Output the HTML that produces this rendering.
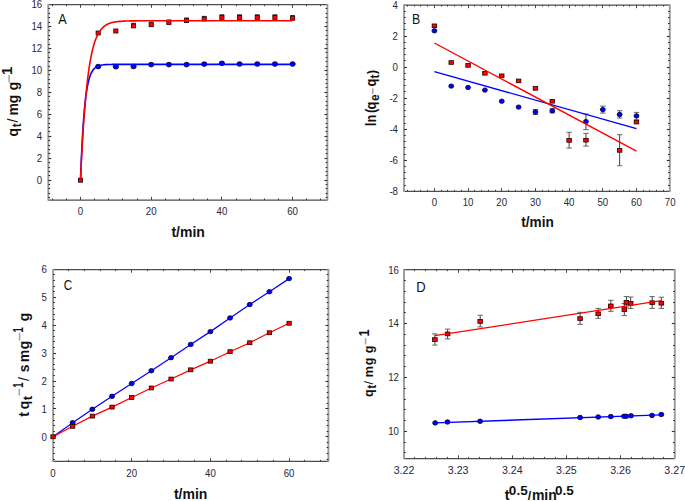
<!DOCTYPE html>
<html><head><meta charset="utf-8"><style>
html,body{margin:0;padding:0;background:#fff;}
body{width:685px;height:501px;overflow:hidden;font-family:"Liberation Sans",sans-serif;}
svg{display:block;}
</style></head><body>
<svg width="685" height="501" viewBox="0 0 685 501" font-family="Liberation Sans, sans-serif">
<line x1="48.30" y1="4.60" x2="327.40" y2="4.60" stroke="#4d4d4d" stroke-width="1.25" />
<line x1="48.30" y1="200.00" x2="327.40" y2="200.00" stroke="#4d4d4d" stroke-width="1.25" />
<line x1="48.30" y1="4.00" x2="48.30" y2="200.60" stroke="#9a9a9a" stroke-width="1.9" />
<line x1="327.40" y1="4.00" x2="327.40" y2="200.60" stroke="#9a9a9a" stroke-width="1.9" />
<line x1="80.50" y1="4.60" x2="80.50" y2="7.80" stroke="#333" stroke-width="0.9" />
<line x1="80.50" y1="200.00" x2="80.50" y2="196.80" stroke="#333" stroke-width="0.9" />
<line x1="151.50" y1="4.60" x2="151.50" y2="7.80" stroke="#333" stroke-width="0.9" />
<line x1="151.50" y1="200.00" x2="151.50" y2="196.80" stroke="#333" stroke-width="0.9" />
<line x1="221.50" y1="4.60" x2="221.50" y2="7.80" stroke="#333" stroke-width="0.9" />
<line x1="221.50" y1="200.00" x2="221.50" y2="196.80" stroke="#333" stroke-width="0.9" />
<line x1="292.50" y1="4.60" x2="292.50" y2="7.80" stroke="#333" stroke-width="0.9" />
<line x1="292.50" y1="200.00" x2="292.50" y2="196.80" stroke="#333" stroke-width="0.9" />
<line x1="52.50" y1="4.60" x2="52.50" y2="6.20" stroke="#333" stroke-width="0.9" />
<line x1="52.50" y1="200.00" x2="52.50" y2="198.40" stroke="#333" stroke-width="0.9" />
<line x1="66.50" y1="4.60" x2="66.50" y2="6.20" stroke="#333" stroke-width="0.9" />
<line x1="66.50" y1="200.00" x2="66.50" y2="198.40" stroke="#333" stroke-width="0.9" />
<line x1="94.50" y1="4.60" x2="94.50" y2="6.20" stroke="#333" stroke-width="0.9" />
<line x1="94.50" y1="200.00" x2="94.50" y2="198.40" stroke="#333" stroke-width="0.9" />
<line x1="108.50" y1="4.60" x2="108.50" y2="6.20" stroke="#333" stroke-width="0.9" />
<line x1="108.50" y1="200.00" x2="108.50" y2="198.40" stroke="#333" stroke-width="0.9" />
<line x1="122.50" y1="4.60" x2="122.50" y2="6.20" stroke="#333" stroke-width="0.9" />
<line x1="122.50" y1="200.00" x2="122.50" y2="198.40" stroke="#333" stroke-width="0.9" />
<line x1="137.50" y1="4.60" x2="137.50" y2="6.20" stroke="#333" stroke-width="0.9" />
<line x1="137.50" y1="200.00" x2="137.50" y2="198.40" stroke="#333" stroke-width="0.9" />
<line x1="165.50" y1="4.60" x2="165.50" y2="6.20" stroke="#333" stroke-width="0.9" />
<line x1="165.50" y1="200.00" x2="165.50" y2="198.40" stroke="#333" stroke-width="0.9" />
<line x1="179.50" y1="4.60" x2="179.50" y2="6.20" stroke="#333" stroke-width="0.9" />
<line x1="179.50" y1="200.00" x2="179.50" y2="198.40" stroke="#333" stroke-width="0.9" />
<line x1="193.50" y1="4.60" x2="193.50" y2="6.20" stroke="#333" stroke-width="0.9" />
<line x1="193.50" y1="200.00" x2="193.50" y2="198.40" stroke="#333" stroke-width="0.9" />
<line x1="207.50" y1="4.60" x2="207.50" y2="6.20" stroke="#333" stroke-width="0.9" />
<line x1="207.50" y1="200.00" x2="207.50" y2="198.40" stroke="#333" stroke-width="0.9" />
<line x1="236.50" y1="4.60" x2="236.50" y2="6.20" stroke="#333" stroke-width="0.9" />
<line x1="236.50" y1="200.00" x2="236.50" y2="198.40" stroke="#333" stroke-width="0.9" />
<line x1="250.50" y1="4.60" x2="250.50" y2="6.20" stroke="#333" stroke-width="0.9" />
<line x1="250.50" y1="200.00" x2="250.50" y2="198.40" stroke="#333" stroke-width="0.9" />
<line x1="264.50" y1="4.60" x2="264.50" y2="6.20" stroke="#333" stroke-width="0.9" />
<line x1="264.50" y1="200.00" x2="264.50" y2="198.40" stroke="#333" stroke-width="0.9" />
<line x1="278.50" y1="4.60" x2="278.50" y2="6.20" stroke="#333" stroke-width="0.9" />
<line x1="278.50" y1="200.00" x2="278.50" y2="198.40" stroke="#333" stroke-width="0.9" />
<line x1="306.50" y1="4.60" x2="306.50" y2="6.20" stroke="#333" stroke-width="0.9" />
<line x1="306.50" y1="200.00" x2="306.50" y2="198.40" stroke="#333" stroke-width="0.9" />
<line x1="320.50" y1="4.60" x2="320.50" y2="6.20" stroke="#333" stroke-width="0.9" />
<line x1="320.50" y1="200.00" x2="320.50" y2="198.40" stroke="#333" stroke-width="0.9" />
<line x1="48.30" y1="180.50" x2="51.30" y2="180.50" stroke="#333" stroke-width="1.1" />
<line x1="327.40" y1="180.50" x2="324.40" y2="180.50" stroke="#333" stroke-width="1.1" />
<line x1="48.30" y1="158.50" x2="51.30" y2="158.50" stroke="#333" stroke-width="1.1" />
<line x1="327.40" y1="158.50" x2="324.40" y2="158.50" stroke="#333" stroke-width="1.1" />
<line x1="48.30" y1="136.50" x2="51.30" y2="136.50" stroke="#333" stroke-width="1.1" />
<line x1="327.40" y1="136.50" x2="324.40" y2="136.50" stroke="#333" stroke-width="1.1" />
<line x1="48.30" y1="114.50" x2="51.30" y2="114.50" stroke="#333" stroke-width="1.1" />
<line x1="327.40" y1="114.50" x2="324.40" y2="114.50" stroke="#333" stroke-width="1.1" />
<line x1="48.30" y1="92.50" x2="51.30" y2="92.50" stroke="#333" stroke-width="1.1" />
<line x1="327.40" y1="92.50" x2="324.40" y2="92.50" stroke="#333" stroke-width="1.1" />
<line x1="48.30" y1="70.50" x2="51.30" y2="70.50" stroke="#333" stroke-width="1.1" />
<line x1="327.40" y1="70.50" x2="324.40" y2="70.50" stroke="#333" stroke-width="1.1" />
<line x1="48.30" y1="48.50" x2="51.30" y2="48.50" stroke="#333" stroke-width="1.1" />
<line x1="327.40" y1="48.50" x2="324.40" y2="48.50" stroke="#333" stroke-width="1.1" />
<line x1="48.30" y1="26.50" x2="51.30" y2="26.50" stroke="#333" stroke-width="1.1" />
<line x1="327.40" y1="26.50" x2="324.40" y2="26.50" stroke="#333" stroke-width="1.1" />
<line x1="48.30" y1="197.50" x2="50.10" y2="197.50" stroke="#333" stroke-width="1.1" />
<line x1="327.40" y1="197.50" x2="325.60" y2="197.50" stroke="#333" stroke-width="1.1" />
<line x1="48.30" y1="193.50" x2="50.10" y2="193.50" stroke="#333" stroke-width="1.1" />
<line x1="327.40" y1="193.50" x2="325.60" y2="193.50" stroke="#333" stroke-width="1.1" />
<line x1="48.30" y1="188.50" x2="50.10" y2="188.50" stroke="#333" stroke-width="1.1" />
<line x1="327.40" y1="188.50" x2="325.60" y2="188.50" stroke="#333" stroke-width="1.1" />
<line x1="48.30" y1="184.50" x2="50.10" y2="184.50" stroke="#333" stroke-width="1.1" />
<line x1="327.40" y1="184.50" x2="325.60" y2="184.50" stroke="#333" stroke-width="1.1" />
<line x1="48.30" y1="175.50" x2="50.10" y2="175.50" stroke="#333" stroke-width="1.1" />
<line x1="327.40" y1="175.50" x2="325.60" y2="175.50" stroke="#333" stroke-width="1.1" />
<line x1="48.30" y1="171.50" x2="50.10" y2="171.50" stroke="#333" stroke-width="1.1" />
<line x1="327.40" y1="171.50" x2="325.60" y2="171.50" stroke="#333" stroke-width="1.1" />
<line x1="48.30" y1="167.50" x2="50.10" y2="167.50" stroke="#333" stroke-width="1.1" />
<line x1="327.40" y1="167.50" x2="325.60" y2="167.50" stroke="#333" stroke-width="1.1" />
<line x1="48.30" y1="162.50" x2="50.10" y2="162.50" stroke="#333" stroke-width="1.1" />
<line x1="327.40" y1="162.50" x2="325.60" y2="162.50" stroke="#333" stroke-width="1.1" />
<line x1="48.30" y1="153.50" x2="50.10" y2="153.50" stroke="#333" stroke-width="1.1" />
<line x1="327.40" y1="153.50" x2="325.60" y2="153.50" stroke="#333" stroke-width="1.1" />
<line x1="48.30" y1="149.50" x2="50.10" y2="149.50" stroke="#333" stroke-width="1.1" />
<line x1="327.40" y1="149.50" x2="325.60" y2="149.50" stroke="#333" stroke-width="1.1" />
<line x1="48.30" y1="145.50" x2="50.10" y2="145.50" stroke="#333" stroke-width="1.1" />
<line x1="327.40" y1="145.50" x2="325.60" y2="145.50" stroke="#333" stroke-width="1.1" />
<line x1="48.30" y1="140.50" x2="50.10" y2="140.50" stroke="#333" stroke-width="1.1" />
<line x1="327.40" y1="140.50" x2="325.60" y2="140.50" stroke="#333" stroke-width="1.1" />
<line x1="48.30" y1="131.50" x2="50.10" y2="131.50" stroke="#333" stroke-width="1.1" />
<line x1="327.40" y1="131.50" x2="325.60" y2="131.50" stroke="#333" stroke-width="1.1" />
<line x1="48.30" y1="127.50" x2="50.10" y2="127.50" stroke="#333" stroke-width="1.1" />
<line x1="327.40" y1="127.50" x2="325.60" y2="127.50" stroke="#333" stroke-width="1.1" />
<line x1="48.30" y1="123.50" x2="50.10" y2="123.50" stroke="#333" stroke-width="1.1" />
<line x1="327.40" y1="123.50" x2="325.60" y2="123.50" stroke="#333" stroke-width="1.1" />
<line x1="48.30" y1="118.50" x2="50.10" y2="118.50" stroke="#333" stroke-width="1.1" />
<line x1="327.40" y1="118.50" x2="325.60" y2="118.50" stroke="#333" stroke-width="1.1" />
<line x1="48.30" y1="109.50" x2="50.10" y2="109.50" stroke="#333" stroke-width="1.1" />
<line x1="327.40" y1="109.50" x2="325.60" y2="109.50" stroke="#333" stroke-width="1.1" />
<line x1="48.30" y1="105.50" x2="50.10" y2="105.50" stroke="#333" stroke-width="1.1" />
<line x1="327.40" y1="105.50" x2="325.60" y2="105.50" stroke="#333" stroke-width="1.1" />
<line x1="48.30" y1="101.50" x2="50.10" y2="101.50" stroke="#333" stroke-width="1.1" />
<line x1="327.40" y1="101.50" x2="325.60" y2="101.50" stroke="#333" stroke-width="1.1" />
<line x1="48.30" y1="96.50" x2="50.10" y2="96.50" stroke="#333" stroke-width="1.1" />
<line x1="327.40" y1="96.50" x2="325.60" y2="96.50" stroke="#333" stroke-width="1.1" />
<line x1="48.30" y1="87.50" x2="50.10" y2="87.50" stroke="#333" stroke-width="1.1" />
<line x1="327.40" y1="87.50" x2="325.60" y2="87.50" stroke="#333" stroke-width="1.1" />
<line x1="48.30" y1="83.50" x2="50.10" y2="83.50" stroke="#333" stroke-width="1.1" />
<line x1="327.40" y1="83.50" x2="325.60" y2="83.50" stroke="#333" stroke-width="1.1" />
<line x1="48.30" y1="79.50" x2="50.10" y2="79.50" stroke="#333" stroke-width="1.1" />
<line x1="327.40" y1="79.50" x2="325.60" y2="79.50" stroke="#333" stroke-width="1.1" />
<line x1="48.30" y1="74.50" x2="50.10" y2="74.50" stroke="#333" stroke-width="1.1" />
<line x1="327.40" y1="74.50" x2="325.60" y2="74.50" stroke="#333" stroke-width="1.1" />
<line x1="48.30" y1="66.50" x2="50.10" y2="66.50" stroke="#333" stroke-width="1.1" />
<line x1="327.40" y1="66.50" x2="325.60" y2="66.50" stroke="#333" stroke-width="1.1" />
<line x1="48.30" y1="61.50" x2="50.10" y2="61.50" stroke="#333" stroke-width="1.1" />
<line x1="327.40" y1="61.50" x2="325.60" y2="61.50" stroke="#333" stroke-width="1.1" />
<line x1="48.30" y1="57.50" x2="50.10" y2="57.50" stroke="#333" stroke-width="1.1" />
<line x1="327.40" y1="57.50" x2="325.60" y2="57.50" stroke="#333" stroke-width="1.1" />
<line x1="48.30" y1="52.50" x2="50.10" y2="52.50" stroke="#333" stroke-width="1.1" />
<line x1="327.40" y1="52.50" x2="325.60" y2="52.50" stroke="#333" stroke-width="1.1" />
<line x1="48.30" y1="44.50" x2="50.10" y2="44.50" stroke="#333" stroke-width="1.1" />
<line x1="327.40" y1="44.50" x2="325.60" y2="44.50" stroke="#333" stroke-width="1.1" />
<line x1="48.30" y1="39.50" x2="50.10" y2="39.50" stroke="#333" stroke-width="1.1" />
<line x1="327.40" y1="39.50" x2="325.60" y2="39.50" stroke="#333" stroke-width="1.1" />
<line x1="48.30" y1="35.50" x2="50.10" y2="35.50" stroke="#333" stroke-width="1.1" />
<line x1="327.40" y1="35.50" x2="325.60" y2="35.50" stroke="#333" stroke-width="1.1" />
<line x1="48.30" y1="30.50" x2="50.10" y2="30.50" stroke="#333" stroke-width="1.1" />
<line x1="327.40" y1="30.50" x2="325.60" y2="30.50" stroke="#333" stroke-width="1.1" />
<line x1="48.30" y1="22.50" x2="50.10" y2="22.50" stroke="#333" stroke-width="1.1" />
<line x1="327.40" y1="22.50" x2="325.60" y2="22.50" stroke="#333" stroke-width="1.1" />
<line x1="48.30" y1="17.50" x2="50.10" y2="17.50" stroke="#333" stroke-width="1.1" />
<line x1="327.40" y1="17.50" x2="325.60" y2="17.50" stroke="#333" stroke-width="1.1" />
<line x1="48.30" y1="13.50" x2="50.10" y2="13.50" stroke="#333" stroke-width="1.1" />
<line x1="327.40" y1="13.50" x2="325.60" y2="13.50" stroke="#333" stroke-width="1.1" />
<line x1="48.30" y1="8.50" x2="50.10" y2="8.50" stroke="#333" stroke-width="1.1" />
<line x1="327.40" y1="8.50" x2="325.60" y2="8.50" stroke="#333" stroke-width="1.1" />
<text transform="translate(80.50,214.60) scale(0.88,1)" font-size="11" text-anchor="middle" font-weight="normal" fill="#28283a" >0</text>
<text transform="translate(151.20,214.60) scale(0.88,1)" font-size="11" text-anchor="middle" font-weight="normal" fill="#28283a" >20</text>
<text transform="translate(221.90,214.60) scale(0.88,1)" font-size="11" text-anchor="middle" font-weight="normal" fill="#28283a" >40</text>
<text transform="translate(292.60,214.60) scale(0.88,1)" font-size="11" text-anchor="middle" font-weight="normal" fill="#28283a" >60</text>
<text transform="translate(42.20,183.90) scale(0.88,1)" font-size="11" text-anchor="end" font-weight="normal" fill="#28283a" >0</text>
<text transform="translate(42.20,161.94) scale(0.88,1)" font-size="11" text-anchor="end" font-weight="normal" fill="#28283a" >2</text>
<text transform="translate(42.20,139.98) scale(0.88,1)" font-size="11" text-anchor="end" font-weight="normal" fill="#28283a" >4</text>
<text transform="translate(42.20,118.02) scale(0.88,1)" font-size="11" text-anchor="end" font-weight="normal" fill="#28283a" >6</text>
<text transform="translate(42.20,96.06) scale(0.88,1)" font-size="11" text-anchor="end" font-weight="normal" fill="#28283a" >8</text>
<text transform="translate(42.20,74.10) scale(0.88,1)" font-size="11" text-anchor="end" font-weight="normal" fill="#28283a" >10</text>
<text transform="translate(42.20,52.14) scale(0.88,1)" font-size="11" text-anchor="end" font-weight="normal" fill="#28283a" >12</text>
<text transform="translate(42.20,30.18) scale(0.88,1)" font-size="11" text-anchor="end" font-weight="normal" fill="#28283a" >14</text>
<text transform="translate(42.20,8.22) scale(0.88,1)" font-size="11" text-anchor="end" font-weight="normal" fill="#28283a" >16</text>
<ellipse cx="98.17" cy="66.60" rx="2.62" ry="2.33" fill="#0000ff" stroke="#000028" stroke-width="0.8"/>
<ellipse cx="115.85" cy="66.70" rx="2.62" ry="2.33" fill="#0000ff" stroke="#000028" stroke-width="0.8"/>
<ellipse cx="133.53" cy="66.50" rx="2.62" ry="2.33" fill="#0000ff" stroke="#000028" stroke-width="0.8"/>
<ellipse cx="151.20" cy="64.60" rx="2.62" ry="2.33" fill="#0000ff" stroke="#000028" stroke-width="0.8"/>
<ellipse cx="168.88" cy="64.60" rx="2.62" ry="2.33" fill="#0000ff" stroke="#000028" stroke-width="0.8"/>
<ellipse cx="186.55" cy="64.60" rx="2.62" ry="2.33" fill="#0000ff" stroke="#000028" stroke-width="0.8"/>
<ellipse cx="204.23" cy="64.10" rx="2.62" ry="2.33" fill="#0000ff" stroke="#000028" stroke-width="0.8"/>
<ellipse cx="221.90" cy="63.30" rx="2.62" ry="2.33" fill="#0000ff" stroke="#000028" stroke-width="0.8"/>
<ellipse cx="239.58" cy="64.00" rx="2.62" ry="2.33" fill="#0000ff" stroke="#000028" stroke-width="0.8"/>
<ellipse cx="257.25" cy="64.00" rx="2.62" ry="2.33" fill="#0000ff" stroke="#000028" stroke-width="0.8"/>
<ellipse cx="274.93" cy="64.00" rx="2.62" ry="2.33" fill="#0000ff" stroke="#000028" stroke-width="0.8"/>
<ellipse cx="292.60" cy="64.00" rx="2.62" ry="2.33" fill="#0000ff" stroke="#000028" stroke-width="0.8"/>
<rect x="78.40" y="178.20" width="4.20" height="4.00" fill="#ff0000" stroke="#200" stroke-width="0.8"/>
<rect x="96.08" y="31.00" width="4.20" height="4.00" fill="#ff0000" stroke="#200" stroke-width="0.8"/>
<rect x="113.75" y="29.00" width="4.20" height="4.00" fill="#ff0000" stroke="#200" stroke-width="0.8"/>
<line x1="131.22" y1="23.30" x2="135.83" y2="23.30" stroke="#222" stroke-width="1.0" />
<rect x="131.43" y="23.90" width="4.20" height="4.00" fill="#ff0000" stroke="#200" stroke-width="0.8"/>
<line x1="148.90" y1="22.10" x2="153.50" y2="22.10" stroke="#222" stroke-width="1.0" />
<rect x="149.10" y="22.70" width="4.20" height="4.00" fill="#ff0000" stroke="#200" stroke-width="0.8"/>
<line x1="166.57" y1="19.90" x2="171.18" y2="19.90" stroke="#222" stroke-width="1.0" />
<rect x="166.78" y="20.50" width="4.20" height="4.00" fill="#ff0000" stroke="#200" stroke-width="0.8"/>
<line x1="184.25" y1="18.00" x2="188.85" y2="18.00" stroke="#222" stroke-width="1.0" />
<rect x="184.45" y="18.60" width="4.20" height="4.00" fill="#ff0000" stroke="#200" stroke-width="0.8"/>
<line x1="201.93" y1="16.40" x2="206.53" y2="16.40" stroke="#222" stroke-width="1.0" />
<rect x="202.13" y="17.00" width="4.20" height="4.00" fill="#ff0000" stroke="#200" stroke-width="0.8"/>
<line x1="219.60" y1="14.80" x2="224.20" y2="14.80" stroke="#222" stroke-width="1.0" />
<rect x="219.80" y="15.40" width="4.20" height="4.00" fill="#ff0000" stroke="#200" stroke-width="0.8"/>
<line x1="237.28" y1="14.80" x2="241.88" y2="14.80" stroke="#222" stroke-width="1.0" />
<rect x="237.48" y="15.40" width="4.20" height="4.00" fill="#ff0000" stroke="#200" stroke-width="0.8"/>
<line x1="254.95" y1="14.80" x2="259.55" y2="14.80" stroke="#222" stroke-width="1.0" />
<rect x="255.15" y="15.40" width="4.20" height="4.00" fill="#ff0000" stroke="#200" stroke-width="0.8"/>
<line x1="272.62" y1="14.80" x2="277.23" y2="14.80" stroke="#222" stroke-width="1.0" />
<rect x="272.82" y="15.40" width="4.20" height="4.00" fill="#ff0000" stroke="#200" stroke-width="0.8"/>
<line x1="290.30" y1="15.60" x2="294.90" y2="15.60" stroke="#222" stroke-width="1.0" />
<rect x="290.50" y="16.20" width="4.20" height="4.00" fill="#ff0000" stroke="#200" stroke-width="0.8"/>
<polyline points="80.50,180.20 81.38,158.02 82.27,140.09 83.15,125.59 84.03,113.87 84.92,104.39 85.80,96.73 86.69,90.53 87.57,85.52 88.45,81.47 89.34,78.20 90.22,75.55 91.11,73.41 91.99,71.67 92.87,70.27 93.76,69.14 94.64,68.23 95.52,67.49 96.41,66.89 97.29,66.40 98.17,66.01 99.06,65.70 99.94,65.44 100.83,65.23 101.71,65.07 102.59,64.93 103.48,64.82 104.36,64.73 105.25,64.66 106.13,64.61 107.01,64.56 107.90,64.52 108.78,64.49 109.66,64.47 110.55,64.45 111.43,64.43 112.31,64.42 113.20,64.41 114.08,64.40 114.97,64.39 115.85,64.38 116.73,64.38 117.62,64.38 118.50,64.37 119.39,64.37 120.27,64.37 121.15,64.37 122.04,64.37 122.92,64.37 123.80,64.36 124.69,64.36 125.57,64.36 126.45,64.36 127.34,64.36 128.22,64.36 129.11,64.36 129.99,64.36 130.87,64.36 131.76,64.36 132.64,64.36 133.53,64.36 134.41,64.36 135.29,64.36 136.18,64.36 137.06,64.36 137.94,64.36 138.83,64.36 139.71,64.36 140.59,64.36 141.48,64.36 142.36,64.36 143.25,64.36 144.13,64.36 145.01,64.36 145.90,64.36 146.78,64.36 147.67,64.36 148.55,64.36 149.43,64.36 150.32,64.36 151.20,64.36 152.08,64.36 152.97,64.36 153.85,64.36 154.74,64.36 155.62,64.36 156.50,64.36 157.39,64.36 158.27,64.36 159.15,64.36 160.04,64.36 160.92,64.36 161.81,64.36 162.69,64.36 163.57,64.36 164.46,64.36 165.34,64.36 166.22,64.36 167.11,64.36 167.99,64.36 168.88,64.36 169.76,64.36 170.64,64.36 171.53,64.36 172.41,64.36 173.29,64.36 174.18,64.36 175.06,64.36 175.94,64.36 176.83,64.36 177.71,64.36 178.60,64.36 179.48,64.36 180.36,64.36 181.25,64.36 182.13,64.36 183.01,64.36 183.90,64.36 184.78,64.36 185.67,64.36 186.55,64.36 187.43,64.36 188.32,64.36 189.20,64.36 190.09,64.36 190.97,64.36 191.85,64.36 192.74,64.36 193.62,64.36 194.50,64.36 195.39,64.36 196.27,64.36 197.16,64.36 198.04,64.36 198.92,64.36 199.81,64.36 200.69,64.36 201.57,64.36 202.46,64.36 203.34,64.36 204.23,64.36 205.11,64.36 205.99,64.36 206.88,64.36 207.76,64.36 208.64,64.36 209.53,64.36 210.41,64.36 211.30,64.36 212.18,64.36 213.06,64.36 213.95,64.36 214.83,64.36 215.71,64.36 216.60,64.36 217.48,64.36 218.37,64.36 219.25,64.36 220.13,64.36 221.02,64.36 221.90,64.36 222.78,64.36 223.67,64.36 224.55,64.36 225.44,64.36 226.32,64.36 227.20,64.36 228.09,64.36 228.97,64.36 229.85,64.36 230.74,64.36 231.62,64.36 232.50,64.36 233.39,64.36 234.27,64.36 235.16,64.36 236.04,64.36 236.92,64.36 237.81,64.36 238.69,64.36 239.58,64.36 240.46,64.36 241.34,64.36 242.23,64.36 243.11,64.36 243.99,64.36 244.88,64.36 245.76,64.36 246.65,64.36 247.53,64.36 248.41,64.36 249.30,64.36 250.18,64.36 251.06,64.36 251.95,64.36 252.83,64.36 253.72,64.36 254.60,64.36 255.48,64.36 256.37,64.36 257.25,64.36 258.13,64.36 259.02,64.36 259.90,64.36 260.78,64.36 261.67,64.36 262.55,64.36 263.44,64.36 264.32,64.36 265.20,64.36 266.09,64.36 266.97,64.36 267.86,64.36 268.74,64.36 269.62,64.36 270.51,64.36 271.39,64.36 272.27,64.36 273.16,64.36 274.04,64.36 274.93,64.36 275.81,64.36 276.69,64.36 277.58,64.36 278.46,64.36 279.34,64.36 280.23,64.36 281.11,64.36 282.00,64.36 282.88,64.36 283.76,64.36 284.65,64.36 285.53,64.36 286.41,64.36 287.30,64.36 288.18,64.36 289.06,64.36 289.95,64.36 290.83,64.36 291.72,64.36 292.60,64.36" fill="none" stroke="#0000ff" stroke-width="1.6"/>
<polyline points="80.50,180.20 81.38,161.47 82.27,144.93 83.15,130.34 84.03,117.47 84.92,106.11 85.80,96.08 86.69,87.23 87.57,79.42 88.45,72.53 89.34,66.45 90.22,61.08 91.11,56.34 91.99,52.16 92.87,48.48 93.76,45.22 94.64,42.35 95.52,39.81 96.41,37.57 97.29,35.60 98.17,33.86 99.06,32.32 99.94,30.96 100.83,29.76 101.71,28.71 102.59,27.78 103.48,26.95 104.36,26.23 105.25,25.58 106.13,25.02 107.01,24.52 107.90,24.08 108.78,23.69 109.66,23.35 110.55,23.04 111.43,22.78 112.31,22.54 113.20,22.33 114.08,22.15 114.97,21.99 115.85,21.84 116.73,21.72 117.62,21.61 118.50,21.51 119.39,21.42 120.27,21.35 121.15,21.28 122.04,21.22 122.92,21.17 123.80,21.12 124.69,21.08 125.57,21.04 126.45,21.01 127.34,20.98 128.22,20.96 129.11,20.94 129.99,20.92 130.87,20.90 131.76,20.88 132.64,20.87 133.53,20.86 134.41,20.85 135.29,20.84 136.18,20.83 137.06,20.82 137.94,20.82 138.83,20.81 139.71,20.81 140.59,20.80 141.48,20.80 142.36,20.80 143.25,20.79 144.13,20.79 145.01,20.79 145.90,20.79 146.78,20.78 147.67,20.78 148.55,20.78 149.43,20.78 150.32,20.78 151.20,20.78 152.08,20.78 152.97,20.78 153.85,20.78 154.74,20.77 155.62,20.77 156.50,20.77 157.39,20.77 158.27,20.77 159.15,20.77 160.04,20.77 160.92,20.77 161.81,20.77 162.69,20.77 163.57,20.77 164.46,20.77 165.34,20.77 166.22,20.77 167.11,20.77 167.99,20.77 168.88,20.77 169.76,20.77 170.64,20.77 171.53,20.77 172.41,20.77 173.29,20.77 174.18,20.77 175.06,20.77 175.94,20.77 176.83,20.77 177.71,20.77 178.60,20.77 179.48,20.77 180.36,20.77 181.25,20.77 182.13,20.77 183.01,20.77 183.90,20.77 184.78,20.77 185.67,20.77 186.55,20.77 187.43,20.77 188.32,20.77 189.20,20.77 190.09,20.77 190.97,20.77 191.85,20.77 192.74,20.77 193.62,20.77 194.50,20.77 195.39,20.77 196.27,20.77 197.16,20.77 198.04,20.77 198.92,20.77 199.81,20.77 200.69,20.77 201.57,20.77 202.46,20.77 203.34,20.77 204.23,20.77 205.11,20.77 205.99,20.77 206.88,20.77 207.76,20.77 208.64,20.77 209.53,20.77 210.41,20.77 211.30,20.77 212.18,20.77 213.06,20.77 213.95,20.77 214.83,20.77 215.71,20.77 216.60,20.77 217.48,20.77 218.37,20.77 219.25,20.77 220.13,20.77 221.02,20.77 221.90,20.77 222.78,20.77 223.67,20.77 224.55,20.77 225.44,20.77 226.32,20.77 227.20,20.77 228.09,20.77 228.97,20.77 229.85,20.77 230.74,20.77 231.62,20.77 232.50,20.77 233.39,20.77 234.27,20.77 235.16,20.77 236.04,20.77 236.92,20.77 237.81,20.77 238.69,20.77 239.58,20.77 240.46,20.77 241.34,20.77 242.23,20.77 243.11,20.77 243.99,20.77 244.88,20.77 245.76,20.77 246.65,20.77 247.53,20.77 248.41,20.77 249.30,20.77 250.18,20.77 251.06,20.77 251.95,20.77 252.83,20.77 253.72,20.77 254.60,20.77 255.48,20.77 256.37,20.77 257.25,20.77 258.13,20.77 259.02,20.77 259.90,20.77 260.78,20.77 261.67,20.77 262.55,20.77 263.44,20.77 264.32,20.77 265.20,20.77 266.09,20.77 266.97,20.77 267.86,20.77 268.74,20.77 269.62,20.77 270.51,20.77 271.39,20.77 272.27,20.77 273.16,20.77 274.04,20.77 274.93,20.77 275.81,20.77 276.69,20.77 277.58,20.77 278.46,20.77 279.34,20.77 280.23,20.77 281.11,20.77 282.00,20.77 282.88,20.77 283.76,20.77 284.65,20.77 285.53,20.77 286.41,20.77 287.30,20.77 288.18,20.77 289.06,20.77 289.95,20.77 290.83,20.77 291.72,20.77 292.60,20.77" fill="none" stroke="#ff0000" stroke-width="1.6"/>
<text transform="translate(58.13,24.35) scale(0.872,1)" font-size="14.54" font-weight="normal" fill="#111">A</text>
<text transform="translate(171.43,236.60) scale(1.000,1)" font-size="14" font-weight="bold" fill="#111">t/min</text>
<line x1="404.00" y1="5.00" x2="669.80" y2="5.00" stroke="#4d4d4d" stroke-width="1.25" />
<line x1="404.00" y1="191.40" x2="669.80" y2="191.40" stroke="#4d4d4d" stroke-width="1.25" />
<line x1="404.00" y1="4.40" x2="404.00" y2="192.00" stroke="#9a9a9a" stroke-width="1.9" />
<line x1="669.80" y1="4.40" x2="669.80" y2="192.00" stroke="#9a9a9a" stroke-width="1.9" />
<line x1="434.50" y1="5.00" x2="434.50" y2="8.20" stroke="#333" stroke-width="0.9" />
<line x1="434.50" y1="191.40" x2="434.50" y2="188.20" stroke="#333" stroke-width="0.9" />
<line x1="468.50" y1="5.00" x2="468.50" y2="8.20" stroke="#333" stroke-width="0.9" />
<line x1="468.50" y1="191.40" x2="468.50" y2="188.20" stroke="#333" stroke-width="0.9" />
<line x1="501.50" y1="5.00" x2="501.50" y2="8.20" stroke="#333" stroke-width="0.9" />
<line x1="501.50" y1="191.40" x2="501.50" y2="188.20" stroke="#333" stroke-width="0.9" />
<line x1="535.50" y1="5.00" x2="535.50" y2="8.20" stroke="#333" stroke-width="0.9" />
<line x1="535.50" y1="191.40" x2="535.50" y2="188.20" stroke="#333" stroke-width="0.9" />
<line x1="569.50" y1="5.00" x2="569.50" y2="8.20" stroke="#333" stroke-width="0.9" />
<line x1="569.50" y1="191.40" x2="569.50" y2="188.20" stroke="#333" stroke-width="0.9" />
<line x1="602.50" y1="5.00" x2="602.50" y2="8.20" stroke="#333" stroke-width="0.9" />
<line x1="602.50" y1="191.40" x2="602.50" y2="188.20" stroke="#333" stroke-width="0.9" />
<line x1="636.50" y1="5.00" x2="636.50" y2="8.20" stroke="#333" stroke-width="0.9" />
<line x1="636.50" y1="191.40" x2="636.50" y2="188.20" stroke="#333" stroke-width="0.9" />
<line x1="407.50" y1="5.00" x2="407.50" y2="6.60" stroke="#333" stroke-width="0.9" />
<line x1="407.50" y1="191.40" x2="407.50" y2="189.80" stroke="#333" stroke-width="0.9" />
<line x1="414.50" y1="5.00" x2="414.50" y2="6.60" stroke="#333" stroke-width="0.9" />
<line x1="414.50" y1="191.40" x2="414.50" y2="189.80" stroke="#333" stroke-width="0.9" />
<line x1="420.50" y1="5.00" x2="420.50" y2="6.60" stroke="#333" stroke-width="0.9" />
<line x1="420.50" y1="191.40" x2="420.50" y2="189.80" stroke="#333" stroke-width="0.9" />
<line x1="427.50" y1="5.00" x2="427.50" y2="6.60" stroke="#333" stroke-width="0.9" />
<line x1="427.50" y1="191.40" x2="427.50" y2="189.80" stroke="#333" stroke-width="0.9" />
<line x1="441.50" y1="5.00" x2="441.50" y2="6.60" stroke="#333" stroke-width="0.9" />
<line x1="441.50" y1="191.40" x2="441.50" y2="189.80" stroke="#333" stroke-width="0.9" />
<line x1="447.50" y1="5.00" x2="447.50" y2="6.60" stroke="#333" stroke-width="0.9" />
<line x1="447.50" y1="191.40" x2="447.50" y2="189.80" stroke="#333" stroke-width="0.9" />
<line x1="454.50" y1="5.00" x2="454.50" y2="6.60" stroke="#333" stroke-width="0.9" />
<line x1="454.50" y1="191.40" x2="454.50" y2="189.80" stroke="#333" stroke-width="0.9" />
<line x1="461.50" y1="5.00" x2="461.50" y2="6.60" stroke="#333" stroke-width="0.9" />
<line x1="461.50" y1="191.40" x2="461.50" y2="189.80" stroke="#333" stroke-width="0.9" />
<line x1="474.50" y1="5.00" x2="474.50" y2="6.60" stroke="#333" stroke-width="0.9" />
<line x1="474.50" y1="191.40" x2="474.50" y2="189.80" stroke="#333" stroke-width="0.9" />
<line x1="481.50" y1="5.00" x2="481.50" y2="6.60" stroke="#333" stroke-width="0.9" />
<line x1="481.50" y1="191.40" x2="481.50" y2="189.80" stroke="#333" stroke-width="0.9" />
<line x1="488.50" y1="5.00" x2="488.50" y2="6.60" stroke="#333" stroke-width="0.9" />
<line x1="488.50" y1="191.40" x2="488.50" y2="189.80" stroke="#333" stroke-width="0.9" />
<line x1="495.50" y1="5.00" x2="495.50" y2="6.60" stroke="#333" stroke-width="0.9" />
<line x1="495.50" y1="191.40" x2="495.50" y2="189.80" stroke="#333" stroke-width="0.9" />
<line x1="508.50" y1="5.00" x2="508.50" y2="6.60" stroke="#333" stroke-width="0.9" />
<line x1="508.50" y1="191.40" x2="508.50" y2="189.80" stroke="#333" stroke-width="0.9" />
<line x1="515.50" y1="5.00" x2="515.50" y2="6.60" stroke="#333" stroke-width="0.9" />
<line x1="515.50" y1="191.40" x2="515.50" y2="189.80" stroke="#333" stroke-width="0.9" />
<line x1="521.50" y1="5.00" x2="521.50" y2="6.60" stroke="#333" stroke-width="0.9" />
<line x1="521.50" y1="191.40" x2="521.50" y2="189.80" stroke="#333" stroke-width="0.9" />
<line x1="528.50" y1="5.00" x2="528.50" y2="6.60" stroke="#333" stroke-width="0.9" />
<line x1="528.50" y1="191.40" x2="528.50" y2="189.80" stroke="#333" stroke-width="0.9" />
<line x1="542.50" y1="5.00" x2="542.50" y2="6.60" stroke="#333" stroke-width="0.9" />
<line x1="542.50" y1="191.40" x2="542.50" y2="189.80" stroke="#333" stroke-width="0.9" />
<line x1="548.50" y1="5.00" x2="548.50" y2="6.60" stroke="#333" stroke-width="0.9" />
<line x1="548.50" y1="191.40" x2="548.50" y2="189.80" stroke="#333" stroke-width="0.9" />
<line x1="555.50" y1="5.00" x2="555.50" y2="6.60" stroke="#333" stroke-width="0.9" />
<line x1="555.50" y1="191.40" x2="555.50" y2="189.80" stroke="#333" stroke-width="0.9" />
<line x1="562.50" y1="5.00" x2="562.50" y2="6.60" stroke="#333" stroke-width="0.9" />
<line x1="562.50" y1="191.40" x2="562.50" y2="189.80" stroke="#333" stroke-width="0.9" />
<line x1="575.50" y1="5.00" x2="575.50" y2="6.60" stroke="#333" stroke-width="0.9" />
<line x1="575.50" y1="191.40" x2="575.50" y2="189.80" stroke="#333" stroke-width="0.9" />
<line x1="582.50" y1="5.00" x2="582.50" y2="6.60" stroke="#333" stroke-width="0.9" />
<line x1="582.50" y1="191.40" x2="582.50" y2="189.80" stroke="#333" stroke-width="0.9" />
<line x1="589.50" y1="5.00" x2="589.50" y2="6.60" stroke="#333" stroke-width="0.9" />
<line x1="589.50" y1="191.40" x2="589.50" y2="189.80" stroke="#333" stroke-width="0.9" />
<line x1="596.50" y1="5.00" x2="596.50" y2="6.60" stroke="#333" stroke-width="0.9" />
<line x1="596.50" y1="191.40" x2="596.50" y2="189.80" stroke="#333" stroke-width="0.9" />
<line x1="609.50" y1="5.00" x2="609.50" y2="6.60" stroke="#333" stroke-width="0.9" />
<line x1="609.50" y1="191.40" x2="609.50" y2="189.80" stroke="#333" stroke-width="0.9" />
<line x1="616.50" y1="5.00" x2="616.50" y2="6.60" stroke="#333" stroke-width="0.9" />
<line x1="616.50" y1="191.40" x2="616.50" y2="189.80" stroke="#333" stroke-width="0.9" />
<line x1="623.50" y1="5.00" x2="623.50" y2="6.60" stroke="#333" stroke-width="0.9" />
<line x1="623.50" y1="191.40" x2="623.50" y2="189.80" stroke="#333" stroke-width="0.9" />
<line x1="629.50" y1="5.00" x2="629.50" y2="6.60" stroke="#333" stroke-width="0.9" />
<line x1="629.50" y1="191.40" x2="629.50" y2="189.80" stroke="#333" stroke-width="0.9" />
<line x1="643.50" y1="5.00" x2="643.50" y2="6.60" stroke="#333" stroke-width="0.9" />
<line x1="643.50" y1="191.40" x2="643.50" y2="189.80" stroke="#333" stroke-width="0.9" />
<line x1="649.50" y1="5.00" x2="649.50" y2="6.60" stroke="#333" stroke-width="0.9" />
<line x1="649.50" y1="191.40" x2="649.50" y2="189.80" stroke="#333" stroke-width="0.9" />
<line x1="656.50" y1="5.00" x2="656.50" y2="6.60" stroke="#333" stroke-width="0.9" />
<line x1="656.50" y1="191.40" x2="656.50" y2="189.80" stroke="#333" stroke-width="0.9" />
<line x1="663.50" y1="5.00" x2="663.50" y2="6.60" stroke="#333" stroke-width="0.9" />
<line x1="663.50" y1="191.40" x2="663.50" y2="189.80" stroke="#333" stroke-width="0.9" />
<line x1="404.00" y1="160.50" x2="407.00" y2="160.50" stroke="#333" stroke-width="1.1" />
<line x1="669.80" y1="160.50" x2="666.80" y2="160.50" stroke="#333" stroke-width="1.1" />
<line x1="404.00" y1="129.50" x2="407.00" y2="129.50" stroke="#333" stroke-width="1.1" />
<line x1="669.80" y1="129.50" x2="666.80" y2="129.50" stroke="#333" stroke-width="1.1" />
<line x1="404.00" y1="98.50" x2="407.00" y2="98.50" stroke="#333" stroke-width="1.1" />
<line x1="669.80" y1="98.50" x2="666.80" y2="98.50" stroke="#333" stroke-width="1.1" />
<line x1="404.00" y1="67.50" x2="407.00" y2="67.50" stroke="#333" stroke-width="1.1" />
<line x1="669.80" y1="67.50" x2="666.80" y2="67.50" stroke="#333" stroke-width="1.1" />
<line x1="404.00" y1="36.50" x2="407.00" y2="36.50" stroke="#333" stroke-width="1.1" />
<line x1="669.80" y1="36.50" x2="666.80" y2="36.50" stroke="#333" stroke-width="1.1" />
<line x1="404.00" y1="185.50" x2="405.80" y2="185.50" stroke="#333" stroke-width="1.1" />
<line x1="669.80" y1="185.50" x2="668.00" y2="185.50" stroke="#333" stroke-width="1.1" />
<line x1="404.00" y1="178.50" x2="405.80" y2="178.50" stroke="#333" stroke-width="1.1" />
<line x1="669.80" y1="178.50" x2="668.00" y2="178.50" stroke="#333" stroke-width="1.1" />
<line x1="404.00" y1="172.50" x2="405.80" y2="172.50" stroke="#333" stroke-width="1.1" />
<line x1="669.80" y1="172.50" x2="668.00" y2="172.50" stroke="#333" stroke-width="1.1" />
<line x1="404.00" y1="166.50" x2="405.80" y2="166.50" stroke="#333" stroke-width="1.1" />
<line x1="669.80" y1="166.50" x2="668.00" y2="166.50" stroke="#333" stroke-width="1.1" />
<line x1="404.00" y1="154.50" x2="405.80" y2="154.50" stroke="#333" stroke-width="1.1" />
<line x1="669.80" y1="154.50" x2="668.00" y2="154.50" stroke="#333" stroke-width="1.1" />
<line x1="404.00" y1="147.50" x2="405.80" y2="147.50" stroke="#333" stroke-width="1.1" />
<line x1="669.80" y1="147.50" x2="668.00" y2="147.50" stroke="#333" stroke-width="1.1" />
<line x1="404.00" y1="141.50" x2="405.80" y2="141.50" stroke="#333" stroke-width="1.1" />
<line x1="669.80" y1="141.50" x2="668.00" y2="141.50" stroke="#333" stroke-width="1.1" />
<line x1="404.00" y1="135.50" x2="405.80" y2="135.50" stroke="#333" stroke-width="1.1" />
<line x1="669.80" y1="135.50" x2="668.00" y2="135.50" stroke="#333" stroke-width="1.1" />
<line x1="404.00" y1="123.50" x2="405.80" y2="123.50" stroke="#333" stroke-width="1.1" />
<line x1="669.80" y1="123.50" x2="668.00" y2="123.50" stroke="#333" stroke-width="1.1" />
<line x1="404.00" y1="116.50" x2="405.80" y2="116.50" stroke="#333" stroke-width="1.1" />
<line x1="669.80" y1="116.50" x2="668.00" y2="116.50" stroke="#333" stroke-width="1.1" />
<line x1="404.00" y1="110.50" x2="405.80" y2="110.50" stroke="#333" stroke-width="1.1" />
<line x1="669.80" y1="110.50" x2="668.00" y2="110.50" stroke="#333" stroke-width="1.1" />
<line x1="404.00" y1="104.50" x2="405.80" y2="104.50" stroke="#333" stroke-width="1.1" />
<line x1="669.80" y1="104.50" x2="668.00" y2="104.50" stroke="#333" stroke-width="1.1" />
<line x1="404.00" y1="91.50" x2="405.80" y2="91.50" stroke="#333" stroke-width="1.1" />
<line x1="669.80" y1="91.50" x2="668.00" y2="91.50" stroke="#333" stroke-width="1.1" />
<line x1="404.00" y1="85.50" x2="405.80" y2="85.50" stroke="#333" stroke-width="1.1" />
<line x1="669.80" y1="85.50" x2="668.00" y2="85.50" stroke="#333" stroke-width="1.1" />
<line x1="404.00" y1="79.50" x2="405.80" y2="79.50" stroke="#333" stroke-width="1.1" />
<line x1="669.80" y1="79.50" x2="668.00" y2="79.50" stroke="#333" stroke-width="1.1" />
<line x1="404.00" y1="73.50" x2="405.80" y2="73.50" stroke="#333" stroke-width="1.1" />
<line x1="669.80" y1="73.50" x2="668.00" y2="73.50" stroke="#333" stroke-width="1.1" />
<line x1="404.00" y1="60.50" x2="405.80" y2="60.50" stroke="#333" stroke-width="1.1" />
<line x1="669.80" y1="60.50" x2="668.00" y2="60.50" stroke="#333" stroke-width="1.1" />
<line x1="404.00" y1="54.50" x2="405.80" y2="54.50" stroke="#333" stroke-width="1.1" />
<line x1="669.80" y1="54.50" x2="668.00" y2="54.50" stroke="#333" stroke-width="1.1" />
<line x1="404.00" y1="48.50" x2="405.80" y2="48.50" stroke="#333" stroke-width="1.1" />
<line x1="669.80" y1="48.50" x2="668.00" y2="48.50" stroke="#333" stroke-width="1.1" />
<line x1="404.00" y1="42.50" x2="405.80" y2="42.50" stroke="#333" stroke-width="1.1" />
<line x1="669.80" y1="42.50" x2="668.00" y2="42.50" stroke="#333" stroke-width="1.1" />
<line x1="404.00" y1="29.50" x2="405.80" y2="29.50" stroke="#333" stroke-width="1.1" />
<line x1="669.80" y1="29.50" x2="668.00" y2="29.50" stroke="#333" stroke-width="1.1" />
<line x1="404.00" y1="23.50" x2="405.80" y2="23.50" stroke="#333" stroke-width="1.1" />
<line x1="669.80" y1="23.50" x2="668.00" y2="23.50" stroke="#333" stroke-width="1.1" />
<line x1="404.00" y1="17.50" x2="405.80" y2="17.50" stroke="#333" stroke-width="1.1" />
<line x1="669.80" y1="17.50" x2="668.00" y2="17.50" stroke="#333" stroke-width="1.1" />
<line x1="404.00" y1="11.50" x2="405.80" y2="11.50" stroke="#333" stroke-width="1.1" />
<line x1="669.80" y1="11.50" x2="668.00" y2="11.50" stroke="#333" stroke-width="1.1" />
<text transform="translate(434.40,205.80) scale(0.88,1)" font-size="11" text-anchor="middle" font-weight="normal" fill="#28283a" >0</text>
<text transform="translate(468.08,205.80) scale(0.88,1)" font-size="11" text-anchor="middle" font-weight="normal" fill="#28283a" >10</text>
<text transform="translate(501.76,205.80) scale(0.88,1)" font-size="11" text-anchor="middle" font-weight="normal" fill="#28283a" >20</text>
<text transform="translate(535.44,205.80) scale(0.88,1)" font-size="11" text-anchor="middle" font-weight="normal" fill="#28283a" >30</text>
<text transform="translate(569.12,205.80) scale(0.88,1)" font-size="11" text-anchor="middle" font-weight="normal" fill="#28283a" >40</text>
<text transform="translate(602.80,205.80) scale(0.88,1)" font-size="11" text-anchor="middle" font-weight="normal" fill="#28283a" >50</text>
<text transform="translate(636.48,205.80) scale(0.88,1)" font-size="11" text-anchor="middle" font-weight="normal" fill="#28283a" >60</text>
<text transform="translate(670.16,205.80) scale(0.88,1)" font-size="11" text-anchor="middle" font-weight="normal" fill="#28283a" >70</text>
<text transform="translate(398.00,195.06) scale(0.88,1)" font-size="11" text-anchor="end" font-weight="normal" fill="#28283a" >-8</text>
<text transform="translate(398.00,164.00) scale(0.88,1)" font-size="11" text-anchor="end" font-weight="normal" fill="#28283a" >-6</text>
<text transform="translate(398.00,132.94) scale(0.88,1)" font-size="11" text-anchor="end" font-weight="normal" fill="#28283a" >-4</text>
<text transform="translate(398.00,101.88) scale(0.88,1)" font-size="11" text-anchor="end" font-weight="normal" fill="#28283a" >-2</text>
<text transform="translate(398.00,70.82) scale(0.88,1)" font-size="11" text-anchor="end" font-weight="normal" fill="#28283a" >0</text>
<text transform="translate(398.00,39.76) scale(0.88,1)" font-size="11" text-anchor="end" font-weight="normal" fill="#28283a" >2</text>
<text transform="translate(398.00,8.70) scale(0.88,1)" font-size="11" text-anchor="end" font-weight="normal" fill="#28283a" >4</text>
<line x1="535.44" y1="109.50" x2="535.44" y2="114.50" stroke="#2a2a2a" stroke-width="0.9" />
<line x1="532.74" y1="109.50" x2="538.14" y2="109.50" stroke="#666" stroke-width="1.0" />
<line x1="532.74" y1="114.50" x2="538.14" y2="114.50" stroke="#666" stroke-width="1.0" />
<line x1="552.28" y1="108.60" x2="552.28" y2="112.80" stroke="#2a2a2a" stroke-width="0.9" />
<line x1="549.58" y1="108.60" x2="554.98" y2="108.60" stroke="#666" stroke-width="1.0" />
<line x1="549.58" y1="112.80" x2="554.98" y2="112.80" stroke="#666" stroke-width="1.0" />
<line x1="585.96" y1="114.00" x2="585.96" y2="129.60" stroke="#2a2a2a" stroke-width="0.9" />
<line x1="583.26" y1="114.00" x2="588.66" y2="114.00" stroke="#666" stroke-width="1.0" />
<line x1="583.26" y1="129.60" x2="588.66" y2="129.60" stroke="#666" stroke-width="1.0" />
<line x1="602.80" y1="106.10" x2="602.80" y2="113.10" stroke="#2a2a2a" stroke-width="0.9" />
<line x1="600.10" y1="106.10" x2="605.50" y2="106.10" stroke="#666" stroke-width="1.0" />
<line x1="600.10" y1="113.10" x2="605.50" y2="113.10" stroke="#666" stroke-width="1.0" />
<line x1="619.64" y1="110.70" x2="619.64" y2="118.00" stroke="#2a2a2a" stroke-width="0.9" />
<line x1="616.94" y1="110.70" x2="622.34" y2="110.70" stroke="#666" stroke-width="1.0" />
<line x1="616.94" y1="118.00" x2="622.34" y2="118.00" stroke="#666" stroke-width="1.0" />
<line x1="636.48" y1="112.40" x2="636.48" y2="119.80" stroke="#2a2a2a" stroke-width="0.9" />
<line x1="633.78" y1="112.40" x2="639.18" y2="112.40" stroke="#666" stroke-width="1.0" />
<line x1="633.78" y1="119.80" x2="639.18" y2="119.80" stroke="#666" stroke-width="1.0" />
<line x1="569.12" y1="132.30" x2="569.12" y2="148.10" stroke="#2a2a2a" stroke-width="0.9" />
<line x1="566.42" y1="132.30" x2="571.82" y2="132.30" stroke="#666" stroke-width="1.0" />
<line x1="566.42" y1="148.10" x2="571.82" y2="148.10" stroke="#666" stroke-width="1.0" />
<line x1="585.96" y1="133.40" x2="585.96" y2="146.10" stroke="#2a2a2a" stroke-width="0.9" />
<line x1="583.26" y1="133.40" x2="588.66" y2="133.40" stroke="#666" stroke-width="1.0" />
<line x1="583.26" y1="146.10" x2="588.66" y2="146.10" stroke="#666" stroke-width="1.0" />
<line x1="619.64" y1="134.70" x2="619.64" y2="165.70" stroke="#2a2a2a" stroke-width="0.9" />
<line x1="616.94" y1="134.70" x2="622.34" y2="134.70" stroke="#666" stroke-width="1.0" />
<line x1="616.94" y1="165.70" x2="622.34" y2="165.70" stroke="#666" stroke-width="1.0" />
<rect x="432.14" y="23.97" width="4.51" height="3.65" fill="#ff0000" stroke="#200" stroke-width="0.8"/>
<rect x="448.98" y="60.67" width="4.51" height="3.65" fill="#ff0000" stroke="#200" stroke-width="0.8"/>
<rect x="465.82" y="63.57" width="4.51" height="3.65" fill="#ff0000" stroke="#200" stroke-width="0.8"/>
<rect x="482.66" y="71.47" width="4.51" height="3.65" fill="#ff0000" stroke="#200" stroke-width="0.8"/>
<rect x="499.50" y="73.97" width="4.51" height="3.65" fill="#ff0000" stroke="#200" stroke-width="0.8"/>
<rect x="516.34" y="79.07" width="4.51" height="3.65" fill="#ff0000" stroke="#200" stroke-width="0.8"/>
<rect x="533.18" y="86.57" width="4.51" height="3.65" fill="#ff0000" stroke="#200" stroke-width="0.8"/>
<rect x="550.02" y="99.47" width="4.51" height="3.65" fill="#ff0000" stroke="#200" stroke-width="0.8"/>
<rect x="566.86" y="138.57" width="4.51" height="3.65" fill="#ff0000" stroke="#200" stroke-width="0.8"/>
<rect x="583.70" y="138.37" width="4.51" height="3.65" fill="#ff0000" stroke="#200" stroke-width="0.8"/>
<rect x="617.38" y="148.57" width="4.51" height="3.65" fill="#ff0000" stroke="#200" stroke-width="0.8"/>
<rect x="634.22" y="120.27" width="4.51" height="3.65" fill="#ff0000" stroke="#200" stroke-width="0.8"/>
<ellipse cx="434.40" cy="30.80" rx="2.47" ry="2.19" fill="#0000ff" stroke="#000028" stroke-width="0.8"/>
<ellipse cx="451.24" cy="86.10" rx="2.47" ry="2.19" fill="#0000ff" stroke="#000028" stroke-width="0.8"/>
<ellipse cx="468.08" cy="87.50" rx="2.47" ry="2.19" fill="#0000ff" stroke="#000028" stroke-width="0.8"/>
<ellipse cx="484.92" cy="90.10" rx="2.47" ry="2.19" fill="#0000ff" stroke="#000028" stroke-width="0.8"/>
<ellipse cx="501.76" cy="101.20" rx="2.47" ry="2.19" fill="#0000ff" stroke="#000028" stroke-width="0.8"/>
<ellipse cx="518.60" cy="107.10" rx="2.47" ry="2.19" fill="#0000ff" stroke="#000028" stroke-width="0.8"/>
<ellipse cx="535.44" cy="112.00" rx="2.47" ry="2.19" fill="#0000ff" stroke="#000028" stroke-width="0.8"/>
<ellipse cx="552.28" cy="110.90" rx="2.47" ry="2.19" fill="#0000ff" stroke="#000028" stroke-width="0.8"/>
<ellipse cx="585.96" cy="121.60" rx="2.47" ry="2.19" fill="#0000ff" stroke="#000028" stroke-width="0.8"/>
<ellipse cx="602.80" cy="109.60" rx="2.47" ry="2.19" fill="#0000ff" stroke="#000028" stroke-width="0.8"/>
<ellipse cx="619.64" cy="114.50" rx="2.47" ry="2.19" fill="#0000ff" stroke="#000028" stroke-width="0.8"/>
<ellipse cx="636.48" cy="115.90" rx="2.47" ry="2.19" fill="#0000ff" stroke="#000028" stroke-width="0.8"/>
<line x1="434.40" y1="71.60" x2="636.48" y2="128.70" stroke="#0000ff" stroke-width="1.4" />
<line x1="434.40" y1="43.00" x2="636.48" y2="151.10" stroke="#ff0000" stroke-width="1.4" />
<text transform="translate(412.09,23.55) scale(0.830,1)" font-size="14.83" font-weight="normal" fill="#111">B</text>
<text transform="translate(521.23,227.40) scale(0.975,1)" font-size="14" font-weight="bold" fill="#111">t/min</text>
<line x1="53.10" y1="269.50" x2="328.40" y2="269.50" stroke="#4d4d4d" stroke-width="1.25" />
<line x1="53.10" y1="461.40" x2="328.40" y2="461.40" stroke="#4d4d4d" stroke-width="1.25" />
<line x1="53.10" y1="268.90" x2="53.10" y2="462.00" stroke="#9a9a9a" stroke-width="1.9" />
<line x1="328.40" y1="268.90" x2="328.40" y2="462.00" stroke="#9a9a9a" stroke-width="1.9" />
<line x1="131.50" y1="269.50" x2="131.50" y2="272.70" stroke="#333" stroke-width="0.9" />
<line x1="131.50" y1="461.40" x2="131.50" y2="458.20" stroke="#333" stroke-width="0.9" />
<line x1="210.50" y1="269.50" x2="210.50" y2="272.70" stroke="#333" stroke-width="0.9" />
<line x1="210.50" y1="461.40" x2="210.50" y2="458.20" stroke="#333" stroke-width="0.9" />
<line x1="289.50" y1="269.50" x2="289.50" y2="272.70" stroke="#333" stroke-width="0.9" />
<line x1="289.50" y1="461.40" x2="289.50" y2="458.20" stroke="#333" stroke-width="0.9" />
<line x1="68.50" y1="269.50" x2="68.50" y2="271.10" stroke="#333" stroke-width="0.9" />
<line x1="68.50" y1="461.40" x2="68.50" y2="459.80" stroke="#333" stroke-width="0.9" />
<line x1="84.50" y1="269.50" x2="84.50" y2="271.10" stroke="#333" stroke-width="0.9" />
<line x1="84.50" y1="461.40" x2="84.50" y2="459.80" stroke="#333" stroke-width="0.9" />
<line x1="100.50" y1="269.50" x2="100.50" y2="271.10" stroke="#333" stroke-width="0.9" />
<line x1="100.50" y1="461.40" x2="100.50" y2="459.80" stroke="#333" stroke-width="0.9" />
<line x1="115.50" y1="269.50" x2="115.50" y2="271.10" stroke="#333" stroke-width="0.9" />
<line x1="115.50" y1="461.40" x2="115.50" y2="459.80" stroke="#333" stroke-width="0.9" />
<line x1="147.50" y1="269.50" x2="147.50" y2="271.10" stroke="#333" stroke-width="0.9" />
<line x1="147.50" y1="461.40" x2="147.50" y2="459.80" stroke="#333" stroke-width="0.9" />
<line x1="163.50" y1="269.50" x2="163.50" y2="271.10" stroke="#333" stroke-width="0.9" />
<line x1="163.50" y1="461.40" x2="163.50" y2="459.80" stroke="#333" stroke-width="0.9" />
<line x1="178.50" y1="269.50" x2="178.50" y2="271.10" stroke="#333" stroke-width="0.9" />
<line x1="178.50" y1="461.40" x2="178.50" y2="459.80" stroke="#333" stroke-width="0.9" />
<line x1="194.50" y1="269.50" x2="194.50" y2="271.10" stroke="#333" stroke-width="0.9" />
<line x1="194.50" y1="461.40" x2="194.50" y2="459.80" stroke="#333" stroke-width="0.9" />
<line x1="226.50" y1="269.50" x2="226.50" y2="271.10" stroke="#333" stroke-width="0.9" />
<line x1="226.50" y1="461.40" x2="226.50" y2="459.80" stroke="#333" stroke-width="0.9" />
<line x1="241.50" y1="269.50" x2="241.50" y2="271.10" stroke="#333" stroke-width="0.9" />
<line x1="241.50" y1="461.40" x2="241.50" y2="459.80" stroke="#333" stroke-width="0.9" />
<line x1="257.50" y1="269.50" x2="257.50" y2="271.10" stroke="#333" stroke-width="0.9" />
<line x1="257.50" y1="461.40" x2="257.50" y2="459.80" stroke="#333" stroke-width="0.9" />
<line x1="273.50" y1="269.50" x2="273.50" y2="271.10" stroke="#333" stroke-width="0.9" />
<line x1="273.50" y1="461.40" x2="273.50" y2="459.80" stroke="#333" stroke-width="0.9" />
<line x1="304.50" y1="269.50" x2="304.50" y2="271.10" stroke="#333" stroke-width="0.9" />
<line x1="304.50" y1="461.40" x2="304.50" y2="459.80" stroke="#333" stroke-width="0.9" />
<line x1="320.50" y1="269.50" x2="320.50" y2="271.10" stroke="#333" stroke-width="0.9" />
<line x1="320.50" y1="461.40" x2="320.50" y2="459.80" stroke="#333" stroke-width="0.9" />
<line x1="53.10" y1="436.50" x2="56.10" y2="436.50" stroke="#333" stroke-width="1.1" />
<line x1="328.40" y1="436.50" x2="325.40" y2="436.50" stroke="#333" stroke-width="1.1" />
<line x1="53.10" y1="408.50" x2="56.10" y2="408.50" stroke="#333" stroke-width="1.1" />
<line x1="328.40" y1="408.50" x2="325.40" y2="408.50" stroke="#333" stroke-width="1.1" />
<line x1="53.10" y1="381.50" x2="56.10" y2="381.50" stroke="#333" stroke-width="1.1" />
<line x1="328.40" y1="381.50" x2="325.40" y2="381.50" stroke="#333" stroke-width="1.1" />
<line x1="53.10" y1="353.50" x2="56.10" y2="353.50" stroke="#333" stroke-width="1.1" />
<line x1="328.40" y1="353.50" x2="325.40" y2="353.50" stroke="#333" stroke-width="1.1" />
<line x1="53.10" y1="325.50" x2="56.10" y2="325.50" stroke="#333" stroke-width="1.1" />
<line x1="328.40" y1="325.50" x2="325.40" y2="325.50" stroke="#333" stroke-width="1.1" />
<line x1="53.10" y1="297.50" x2="56.10" y2="297.50" stroke="#333" stroke-width="1.1" />
<line x1="328.40" y1="297.50" x2="325.40" y2="297.50" stroke="#333" stroke-width="1.1" />
<line x1="53.10" y1="459.50" x2="54.90" y2="459.50" stroke="#333" stroke-width="1.1" />
<line x1="328.40" y1="459.50" x2="326.60" y2="459.50" stroke="#333" stroke-width="1.1" />
<line x1="53.10" y1="453.50" x2="54.90" y2="453.50" stroke="#333" stroke-width="1.1" />
<line x1="328.40" y1="453.50" x2="326.60" y2="453.50" stroke="#333" stroke-width="1.1" />
<line x1="53.10" y1="447.50" x2="54.90" y2="447.50" stroke="#333" stroke-width="1.1" />
<line x1="328.40" y1="447.50" x2="326.60" y2="447.50" stroke="#333" stroke-width="1.1" />
<line x1="53.10" y1="442.50" x2="54.90" y2="442.50" stroke="#333" stroke-width="1.1" />
<line x1="328.40" y1="442.50" x2="326.60" y2="442.50" stroke="#333" stroke-width="1.1" />
<line x1="53.10" y1="431.50" x2="54.90" y2="431.50" stroke="#333" stroke-width="1.1" />
<line x1="328.40" y1="431.50" x2="326.60" y2="431.50" stroke="#333" stroke-width="1.1" />
<line x1="53.10" y1="425.50" x2="54.90" y2="425.50" stroke="#333" stroke-width="1.1" />
<line x1="328.40" y1="425.50" x2="326.60" y2="425.50" stroke="#333" stroke-width="1.1" />
<line x1="53.10" y1="420.50" x2="54.90" y2="420.50" stroke="#333" stroke-width="1.1" />
<line x1="328.40" y1="420.50" x2="326.60" y2="420.50" stroke="#333" stroke-width="1.1" />
<line x1="53.10" y1="414.50" x2="54.90" y2="414.50" stroke="#333" stroke-width="1.1" />
<line x1="328.40" y1="414.50" x2="326.60" y2="414.50" stroke="#333" stroke-width="1.1" />
<line x1="53.10" y1="403.50" x2="54.90" y2="403.50" stroke="#333" stroke-width="1.1" />
<line x1="328.40" y1="403.50" x2="326.60" y2="403.50" stroke="#333" stroke-width="1.1" />
<line x1="53.10" y1="397.50" x2="54.90" y2="397.50" stroke="#333" stroke-width="1.1" />
<line x1="328.40" y1="397.50" x2="326.60" y2="397.50" stroke="#333" stroke-width="1.1" />
<line x1="53.10" y1="392.50" x2="54.90" y2="392.50" stroke="#333" stroke-width="1.1" />
<line x1="328.40" y1="392.50" x2="326.60" y2="392.50" stroke="#333" stroke-width="1.1" />
<line x1="53.10" y1="386.50" x2="54.90" y2="386.50" stroke="#333" stroke-width="1.1" />
<line x1="328.40" y1="386.50" x2="326.60" y2="386.50" stroke="#333" stroke-width="1.1" />
<line x1="53.10" y1="375.50" x2="54.90" y2="375.50" stroke="#333" stroke-width="1.1" />
<line x1="328.40" y1="375.50" x2="326.60" y2="375.50" stroke="#333" stroke-width="1.1" />
<line x1="53.10" y1="369.50" x2="54.90" y2="369.50" stroke="#333" stroke-width="1.1" />
<line x1="328.40" y1="369.50" x2="326.60" y2="369.50" stroke="#333" stroke-width="1.1" />
<line x1="53.10" y1="364.50" x2="54.90" y2="364.50" stroke="#333" stroke-width="1.1" />
<line x1="328.40" y1="364.50" x2="326.60" y2="364.50" stroke="#333" stroke-width="1.1" />
<line x1="53.10" y1="358.50" x2="54.90" y2="358.50" stroke="#333" stroke-width="1.1" />
<line x1="328.40" y1="358.50" x2="326.60" y2="358.50" stroke="#333" stroke-width="1.1" />
<line x1="53.10" y1="347.50" x2="54.90" y2="347.50" stroke="#333" stroke-width="1.1" />
<line x1="328.40" y1="347.50" x2="326.60" y2="347.50" stroke="#333" stroke-width="1.1" />
<line x1="53.10" y1="341.50" x2="54.90" y2="341.50" stroke="#333" stroke-width="1.1" />
<line x1="328.40" y1="341.50" x2="326.60" y2="341.50" stroke="#333" stroke-width="1.1" />
<line x1="53.10" y1="336.50" x2="54.90" y2="336.50" stroke="#333" stroke-width="1.1" />
<line x1="328.40" y1="336.50" x2="326.60" y2="336.50" stroke="#333" stroke-width="1.1" />
<line x1="53.10" y1="330.50" x2="54.90" y2="330.50" stroke="#333" stroke-width="1.1" />
<line x1="328.40" y1="330.50" x2="326.60" y2="330.50" stroke="#333" stroke-width="1.1" />
<line x1="53.10" y1="319.50" x2="54.90" y2="319.50" stroke="#333" stroke-width="1.1" />
<line x1="328.40" y1="319.50" x2="326.60" y2="319.50" stroke="#333" stroke-width="1.1" />
<line x1="53.10" y1="314.50" x2="54.90" y2="314.50" stroke="#333" stroke-width="1.1" />
<line x1="328.40" y1="314.50" x2="326.60" y2="314.50" stroke="#333" stroke-width="1.1" />
<line x1="53.10" y1="308.50" x2="54.90" y2="308.50" stroke="#333" stroke-width="1.1" />
<line x1="328.40" y1="308.50" x2="326.60" y2="308.50" stroke="#333" stroke-width="1.1" />
<line x1="53.10" y1="302.50" x2="54.90" y2="302.50" stroke="#333" stroke-width="1.1" />
<line x1="328.40" y1="302.50" x2="326.60" y2="302.50" stroke="#333" stroke-width="1.1" />
<line x1="53.10" y1="291.50" x2="54.90" y2="291.50" stroke="#333" stroke-width="1.1" />
<line x1="328.40" y1="291.50" x2="326.60" y2="291.50" stroke="#333" stroke-width="1.1" />
<line x1="53.10" y1="286.50" x2="54.90" y2="286.50" stroke="#333" stroke-width="1.1" />
<line x1="328.40" y1="286.50" x2="326.60" y2="286.50" stroke="#333" stroke-width="1.1" />
<line x1="53.10" y1="280.50" x2="54.90" y2="280.50" stroke="#333" stroke-width="1.1" />
<line x1="328.40" y1="280.50" x2="326.60" y2="280.50" stroke="#333" stroke-width="1.1" />
<line x1="53.10" y1="274.50" x2="54.90" y2="274.50" stroke="#333" stroke-width="1.1" />
<line x1="328.40" y1="274.50" x2="326.60" y2="274.50" stroke="#333" stroke-width="1.1" />
<text transform="translate(53.00,476.90) scale(0.88,1)" font-size="11" text-anchor="middle" font-weight="normal" fill="#28283a" >0</text>
<text transform="translate(131.70,476.90) scale(0.88,1)" font-size="11" text-anchor="middle" font-weight="normal" fill="#28283a" >20</text>
<text transform="translate(210.40,476.90) scale(0.88,1)" font-size="11" text-anchor="middle" font-weight="normal" fill="#28283a" >40</text>
<text transform="translate(289.10,476.90) scale(0.88,1)" font-size="11" text-anchor="middle" font-weight="normal" fill="#28283a" >60</text>
<text transform="translate(46.90,440.50) scale(0.88,1)" font-size="11" text-anchor="end" font-weight="normal" fill="#28283a" >0</text>
<text transform="translate(46.90,412.60) scale(0.88,1)" font-size="11" text-anchor="end" font-weight="normal" fill="#28283a" >1</text>
<text transform="translate(46.90,384.70) scale(0.88,1)" font-size="11" text-anchor="end" font-weight="normal" fill="#28283a" >2</text>
<text transform="translate(46.90,356.80) scale(0.88,1)" font-size="11" text-anchor="end" font-weight="normal" fill="#28283a" >3</text>
<text transform="translate(46.90,328.90) scale(0.88,1)" font-size="11" text-anchor="end" font-weight="normal" fill="#28283a" >4</text>
<text transform="translate(46.90,301.00) scale(0.88,1)" font-size="11" text-anchor="end" font-weight="normal" fill="#28283a" >5</text>
<text transform="translate(46.90,273.10) scale(0.88,1)" font-size="11" text-anchor="end" font-weight="normal" fill="#28283a" >6</text>
<polyline points="53.00,436.80 72.67,422.71 92.35,409.29 112.03,396.35 131.70,383.51 151.38,370.68 171.05,357.70 190.72,344.45 210.40,331.62 230.07,317.95 249.75,304.55 269.43,291.72 289.10,278.61" fill="none" stroke="#0000ff" stroke-width="1.25"/>
<polyline points="53.00,436.80 72.67,426.31 92.35,416.10 112.03,407.09 131.70,397.46 151.38,387.98 171.05,379.05 190.72,369.84 210.40,361.19 230.07,351.71 249.75,342.78 269.43,332.73 289.10,323.25" fill="none" stroke="#ff0000" stroke-width="1.25"/>
<ellipse cx="72.67" cy="422.71" rx="2.52" ry="2.23" fill="#0000ff" stroke="#000028" stroke-width="0.8"/>
<ellipse cx="92.35" cy="409.29" rx="2.52" ry="2.23" fill="#0000ff" stroke="#000028" stroke-width="0.8"/>
<ellipse cx="112.03" cy="396.35" rx="2.52" ry="2.23" fill="#0000ff" stroke="#000028" stroke-width="0.8"/>
<ellipse cx="131.70" cy="383.51" rx="2.52" ry="2.23" fill="#0000ff" stroke="#000028" stroke-width="0.8"/>
<ellipse cx="151.38" cy="370.68" rx="2.52" ry="2.23" fill="#0000ff" stroke="#000028" stroke-width="0.8"/>
<ellipse cx="171.05" cy="357.70" rx="2.52" ry="2.23" fill="#0000ff" stroke="#000028" stroke-width="0.8"/>
<ellipse cx="190.72" cy="344.45" rx="2.52" ry="2.23" fill="#0000ff" stroke="#000028" stroke-width="0.8"/>
<ellipse cx="210.40" cy="331.62" rx="2.52" ry="2.23" fill="#0000ff" stroke="#000028" stroke-width="0.8"/>
<ellipse cx="230.07" cy="317.95" rx="2.52" ry="2.23" fill="#0000ff" stroke="#000028" stroke-width="0.8"/>
<ellipse cx="249.75" cy="304.55" rx="2.52" ry="2.23" fill="#0000ff" stroke="#000028" stroke-width="0.8"/>
<ellipse cx="269.43" cy="291.72" rx="2.52" ry="2.23" fill="#0000ff" stroke="#000028" stroke-width="0.8"/>
<ellipse cx="289.10" cy="278.61" rx="2.52" ry="2.23" fill="#0000ff" stroke="#000028" stroke-width="0.8"/>
<rect x="50.85" y="434.85" width="4.30" height="3.90" fill="#ff0000" stroke="#200" stroke-width="0.8"/>
<rect x="70.52" y="424.36" width="4.30" height="3.90" fill="#ff0000" stroke="#200" stroke-width="0.8"/>
<rect x="90.20" y="414.15" width="4.30" height="3.90" fill="#ff0000" stroke="#200" stroke-width="0.8"/>
<rect x="109.88" y="405.14" width="4.30" height="3.90" fill="#ff0000" stroke="#200" stroke-width="0.8"/>
<rect x="129.55" y="395.51" width="4.30" height="3.90" fill="#ff0000" stroke="#200" stroke-width="0.8"/>
<rect x="149.22" y="386.03" width="4.30" height="3.90" fill="#ff0000" stroke="#200" stroke-width="0.8"/>
<rect x="168.90" y="377.10" width="4.30" height="3.90" fill="#ff0000" stroke="#200" stroke-width="0.8"/>
<rect x="188.57" y="367.89" width="4.30" height="3.90" fill="#ff0000" stroke="#200" stroke-width="0.8"/>
<rect x="208.25" y="359.24" width="4.30" height="3.90" fill="#ff0000" stroke="#200" stroke-width="0.8"/>
<rect x="227.92" y="349.76" width="4.30" height="3.90" fill="#ff0000" stroke="#200" stroke-width="0.8"/>
<rect x="247.60" y="340.83" width="4.30" height="3.90" fill="#ff0000" stroke="#200" stroke-width="0.8"/>
<rect x="267.28" y="330.78" width="4.30" height="3.90" fill="#ff0000" stroke="#200" stroke-width="0.8"/>
<rect x="286.95" y="321.30" width="4.30" height="3.90" fill="#ff0000" stroke="#200" stroke-width="0.8"/>
<text transform="translate(63.66,289.51) scale(0.803,1)" font-size="14.55" font-weight="normal" fill="#111">C</text>
<text transform="translate(173.93,498.50) scale(1.000,1)" font-size="14" font-weight="bold" fill="#111">t/min</text>
<line x1="404.00" y1="269.60" x2="674.80" y2="269.60" stroke="#4d4d4d" stroke-width="1.25" />
<line x1="404.00" y1="458.50" x2="674.80" y2="458.50" stroke="#4d4d4d" stroke-width="1.25" />
<line x1="404.00" y1="269.00" x2="404.00" y2="459.10" stroke="#9a9a9a" stroke-width="1.9" />
<line x1="674.80" y1="269.00" x2="674.80" y2="459.10" stroke="#9a9a9a" stroke-width="1.9" />
<line x1="458.50" y1="269.60" x2="458.50" y2="272.80" stroke="#333" stroke-width="0.9" />
<line x1="458.50" y1="458.50" x2="458.50" y2="455.30" stroke="#333" stroke-width="0.9" />
<line x1="512.50" y1="269.60" x2="512.50" y2="272.80" stroke="#333" stroke-width="0.9" />
<line x1="512.50" y1="458.50" x2="512.50" y2="455.30" stroke="#333" stroke-width="0.9" />
<line x1="566.50" y1="269.60" x2="566.50" y2="272.80" stroke="#333" stroke-width="0.9" />
<line x1="566.50" y1="458.50" x2="566.50" y2="455.30" stroke="#333" stroke-width="0.9" />
<line x1="620.50" y1="269.60" x2="620.50" y2="272.80" stroke="#333" stroke-width="0.9" />
<line x1="620.50" y1="458.50" x2="620.50" y2="455.30" stroke="#333" stroke-width="0.9" />
<line x1="414.50" y1="269.60" x2="414.50" y2="271.20" stroke="#333" stroke-width="0.9" />
<line x1="414.50" y1="458.50" x2="414.50" y2="456.90" stroke="#333" stroke-width="0.9" />
<line x1="425.50" y1="269.60" x2="425.50" y2="271.20" stroke="#333" stroke-width="0.9" />
<line x1="425.50" y1="458.50" x2="425.50" y2="456.90" stroke="#333" stroke-width="0.9" />
<line x1="436.50" y1="269.60" x2="436.50" y2="271.20" stroke="#333" stroke-width="0.9" />
<line x1="436.50" y1="458.50" x2="436.50" y2="456.90" stroke="#333" stroke-width="0.9" />
<line x1="447.50" y1="269.60" x2="447.50" y2="271.20" stroke="#333" stroke-width="0.9" />
<line x1="447.50" y1="458.50" x2="447.50" y2="456.90" stroke="#333" stroke-width="0.9" />
<line x1="468.50" y1="269.60" x2="468.50" y2="271.20" stroke="#333" stroke-width="0.9" />
<line x1="468.50" y1="458.50" x2="468.50" y2="456.90" stroke="#333" stroke-width="0.9" />
<line x1="479.50" y1="269.60" x2="479.50" y2="271.20" stroke="#333" stroke-width="0.9" />
<line x1="479.50" y1="458.50" x2="479.50" y2="456.90" stroke="#333" stroke-width="0.9" />
<line x1="490.50" y1="269.60" x2="490.50" y2="271.20" stroke="#333" stroke-width="0.9" />
<line x1="490.50" y1="458.50" x2="490.50" y2="456.90" stroke="#333" stroke-width="0.9" />
<line x1="501.50" y1="269.60" x2="501.50" y2="271.20" stroke="#333" stroke-width="0.9" />
<line x1="501.50" y1="458.50" x2="501.50" y2="456.90" stroke="#333" stroke-width="0.9" />
<line x1="523.50" y1="269.60" x2="523.50" y2="271.20" stroke="#333" stroke-width="0.9" />
<line x1="523.50" y1="458.50" x2="523.50" y2="456.90" stroke="#333" stroke-width="0.9" />
<line x1="533.50" y1="269.60" x2="533.50" y2="271.20" stroke="#333" stroke-width="0.9" />
<line x1="533.50" y1="458.50" x2="533.50" y2="456.90" stroke="#333" stroke-width="0.9" />
<line x1="544.50" y1="269.60" x2="544.50" y2="271.20" stroke="#333" stroke-width="0.9" />
<line x1="544.50" y1="458.50" x2="544.50" y2="456.90" stroke="#333" stroke-width="0.9" />
<line x1="555.50" y1="269.60" x2="555.50" y2="271.20" stroke="#333" stroke-width="0.9" />
<line x1="555.50" y1="458.50" x2="555.50" y2="456.90" stroke="#333" stroke-width="0.9" />
<line x1="577.50" y1="269.60" x2="577.50" y2="271.20" stroke="#333" stroke-width="0.9" />
<line x1="577.50" y1="458.50" x2="577.50" y2="456.90" stroke="#333" stroke-width="0.9" />
<line x1="588.50" y1="269.60" x2="588.50" y2="271.20" stroke="#333" stroke-width="0.9" />
<line x1="588.50" y1="458.50" x2="588.50" y2="456.90" stroke="#333" stroke-width="0.9" />
<line x1="598.50" y1="269.60" x2="598.50" y2="271.20" stroke="#333" stroke-width="0.9" />
<line x1="598.50" y1="458.50" x2="598.50" y2="456.90" stroke="#333" stroke-width="0.9" />
<line x1="609.50" y1="269.60" x2="609.50" y2="271.20" stroke="#333" stroke-width="0.9" />
<line x1="609.50" y1="458.50" x2="609.50" y2="456.90" stroke="#333" stroke-width="0.9" />
<line x1="631.50" y1="269.60" x2="631.50" y2="271.20" stroke="#333" stroke-width="0.9" />
<line x1="631.50" y1="458.50" x2="631.50" y2="456.90" stroke="#333" stroke-width="0.9" />
<line x1="642.50" y1="269.60" x2="642.50" y2="271.20" stroke="#333" stroke-width="0.9" />
<line x1="642.50" y1="458.50" x2="642.50" y2="456.90" stroke="#333" stroke-width="0.9" />
<line x1="653.50" y1="269.60" x2="653.50" y2="271.20" stroke="#333" stroke-width="0.9" />
<line x1="653.50" y1="458.50" x2="653.50" y2="456.90" stroke="#333" stroke-width="0.9" />
<line x1="663.50" y1="269.60" x2="663.50" y2="271.20" stroke="#333" stroke-width="0.9" />
<line x1="663.50" y1="458.50" x2="663.50" y2="456.90" stroke="#333" stroke-width="0.9" />
<line x1="404.00" y1="431.50" x2="407.00" y2="431.50" stroke="#333" stroke-width="1.1" />
<line x1="674.80" y1="431.50" x2="671.80" y2="431.50" stroke="#333" stroke-width="1.1" />
<line x1="404.00" y1="377.50" x2="407.00" y2="377.50" stroke="#333" stroke-width="1.1" />
<line x1="674.80" y1="377.50" x2="671.80" y2="377.50" stroke="#333" stroke-width="1.1" />
<line x1="404.00" y1="323.50" x2="407.00" y2="323.50" stroke="#333" stroke-width="1.1" />
<line x1="674.80" y1="323.50" x2="671.80" y2="323.50" stroke="#333" stroke-width="1.1" />
<line x1="404.00" y1="452.50" x2="405.80" y2="452.50" stroke="#333" stroke-width="1.1" />
<line x1="674.80" y1="452.50" x2="673.00" y2="452.50" stroke="#333" stroke-width="1.1" />
<line x1="404.00" y1="442.50" x2="405.80" y2="442.50" stroke="#333" stroke-width="1.1" />
<line x1="674.80" y1="442.50" x2="673.00" y2="442.50" stroke="#333" stroke-width="1.1" />
<line x1="404.00" y1="420.50" x2="405.80" y2="420.50" stroke="#333" stroke-width="1.1" />
<line x1="674.80" y1="420.50" x2="673.00" y2="420.50" stroke="#333" stroke-width="1.1" />
<line x1="404.00" y1="409.50" x2="405.80" y2="409.50" stroke="#333" stroke-width="1.1" />
<line x1="674.80" y1="409.50" x2="673.00" y2="409.50" stroke="#333" stroke-width="1.1" />
<line x1="404.00" y1="399.50" x2="405.80" y2="399.50" stroke="#333" stroke-width="1.1" />
<line x1="674.80" y1="399.50" x2="673.00" y2="399.50" stroke="#333" stroke-width="1.1" />
<line x1="404.00" y1="388.50" x2="405.80" y2="388.50" stroke="#333" stroke-width="1.1" />
<line x1="674.80" y1="388.50" x2="673.00" y2="388.50" stroke="#333" stroke-width="1.1" />
<line x1="404.00" y1="366.50" x2="405.80" y2="366.50" stroke="#333" stroke-width="1.1" />
<line x1="674.80" y1="366.50" x2="673.00" y2="366.50" stroke="#333" stroke-width="1.1" />
<line x1="404.00" y1="355.50" x2="405.80" y2="355.50" stroke="#333" stroke-width="1.1" />
<line x1="674.80" y1="355.50" x2="673.00" y2="355.50" stroke="#333" stroke-width="1.1" />
<line x1="404.00" y1="345.50" x2="405.80" y2="345.50" stroke="#333" stroke-width="1.1" />
<line x1="674.80" y1="345.50" x2="673.00" y2="345.50" stroke="#333" stroke-width="1.1" />
<line x1="404.00" y1="334.50" x2="405.80" y2="334.50" stroke="#333" stroke-width="1.1" />
<line x1="674.80" y1="334.50" x2="673.00" y2="334.50" stroke="#333" stroke-width="1.1" />
<line x1="404.00" y1="312.50" x2="405.80" y2="312.50" stroke="#333" stroke-width="1.1" />
<line x1="674.80" y1="312.50" x2="673.00" y2="312.50" stroke="#333" stroke-width="1.1" />
<line x1="404.00" y1="302.50" x2="405.80" y2="302.50" stroke="#333" stroke-width="1.1" />
<line x1="674.80" y1="302.50" x2="673.00" y2="302.50" stroke="#333" stroke-width="1.1" />
<line x1="404.00" y1="291.50" x2="405.80" y2="291.50" stroke="#333" stroke-width="1.1" />
<line x1="674.80" y1="291.50" x2="673.00" y2="291.50" stroke="#333" stroke-width="1.1" />
<line x1="404.00" y1="280.50" x2="405.80" y2="280.50" stroke="#333" stroke-width="1.1" />
<line x1="674.80" y1="280.50" x2="673.00" y2="280.50" stroke="#333" stroke-width="1.1" />
<text transform="translate(404.00,473.80) scale(0.97,1)" font-size="11" text-anchor="middle" font-weight="normal" fill="#28283a" >3.22</text>
<text transform="translate(458.14,473.80) scale(0.97,1)" font-size="11" text-anchor="middle" font-weight="normal" fill="#28283a" >3.23</text>
<text transform="translate(512.28,473.80) scale(0.97,1)" font-size="11" text-anchor="middle" font-weight="normal" fill="#28283a" >3.24</text>
<text transform="translate(566.42,473.80) scale(0.97,1)" font-size="11" text-anchor="middle" font-weight="normal" fill="#28283a" >3.25</text>
<text transform="translate(620.56,473.80) scale(0.97,1)" font-size="11" text-anchor="middle" font-weight="normal" fill="#28283a" >3.26</text>
<text transform="translate(674.70,473.80) scale(0.97,1)" font-size="11" text-anchor="middle" font-weight="normal" fill="#28283a" >3.27</text>
<text transform="translate(399.00,435.10) scale(0.88,1)" font-size="11" text-anchor="end" font-weight="normal" fill="#28283a" >10</text>
<text transform="translate(399.00,381.24) scale(0.88,1)" font-size="11" text-anchor="end" font-weight="normal" fill="#28283a" >12</text>
<text transform="translate(399.00,327.38) scale(0.88,1)" font-size="11" text-anchor="end" font-weight="normal" fill="#28283a" >14</text>
<text transform="translate(399.00,273.52) scale(0.88,1)" font-size="11" text-anchor="end" font-weight="normal" fill="#28283a" >16</text>
<line x1="434.90" y1="333.90" x2="434.90" y2="345.10" stroke="#2a2a2a" stroke-width="0.9" />
<line x1="432.20" y1="333.90" x2="437.60" y2="333.90" stroke="#666" stroke-width="1.0" />
<line x1="432.20" y1="345.10" x2="437.60" y2="345.10" stroke="#666" stroke-width="1.0" />
<line x1="447.60" y1="329.10" x2="447.60" y2="338.90" stroke="#2a2a2a" stroke-width="0.9" />
<line x1="444.90" y1="329.10" x2="450.30" y2="329.10" stroke="#666" stroke-width="1.0" />
<line x1="444.90" y1="338.90" x2="450.30" y2="338.90" stroke="#666" stroke-width="1.0" />
<line x1="480.20" y1="315.20" x2="480.20" y2="326.90" stroke="#2a2a2a" stroke-width="0.9" />
<line x1="477.50" y1="315.20" x2="482.90" y2="315.20" stroke="#666" stroke-width="1.0" />
<line x1="477.50" y1="326.90" x2="482.90" y2="326.90" stroke="#666" stroke-width="1.0" />
<line x1="580.10" y1="312.30" x2="580.10" y2="324.40" stroke="#2a2a2a" stroke-width="0.9" />
<line x1="577.40" y1="312.30" x2="582.80" y2="312.30" stroke="#666" stroke-width="1.0" />
<line x1="577.40" y1="324.40" x2="582.80" y2="324.40" stroke="#666" stroke-width="1.0" />
<line x1="598.20" y1="308.40" x2="598.20" y2="318.30" stroke="#2a2a2a" stroke-width="0.9" />
<line x1="595.50" y1="308.40" x2="600.90" y2="308.40" stroke="#666" stroke-width="1.0" />
<line x1="595.50" y1="318.30" x2="600.90" y2="318.30" stroke="#666" stroke-width="1.0" />
<line x1="610.80" y1="300.30" x2="610.80" y2="311.30" stroke="#2a2a2a" stroke-width="0.9" />
<line x1="608.10" y1="300.30" x2="613.50" y2="300.30" stroke="#666" stroke-width="1.0" />
<line x1="608.10" y1="311.30" x2="613.50" y2="311.30" stroke="#666" stroke-width="1.0" />
<line x1="624.30" y1="303.60" x2="624.30" y2="315.60" stroke="#2a2a2a" stroke-width="0.9" />
<line x1="621.60" y1="303.60" x2="627.00" y2="303.60" stroke="#666" stroke-width="1.0" />
<line x1="621.60" y1="315.60" x2="627.00" y2="315.60" stroke="#666" stroke-width="1.0" />
<line x1="626.40" y1="296.60" x2="626.40" y2="308.00" stroke="#2a2a2a" stroke-width="0.9" />
<line x1="623.70" y1="296.60" x2="629.10" y2="296.60" stroke="#666" stroke-width="1.0" />
<line x1="623.70" y1="308.00" x2="629.10" y2="308.00" stroke="#666" stroke-width="1.0" />
<line x1="630.70" y1="297.00" x2="630.70" y2="308.40" stroke="#2a2a2a" stroke-width="0.9" />
<line x1="628.00" y1="297.00" x2="633.40" y2="297.00" stroke="#666" stroke-width="1.0" />
<line x1="628.00" y1="308.40" x2="633.40" y2="308.40" stroke="#666" stroke-width="1.0" />
<line x1="652.20" y1="296.60" x2="652.20" y2="308.40" stroke="#2a2a2a" stroke-width="0.9" />
<line x1="649.50" y1="296.60" x2="654.90" y2="296.60" stroke="#666" stroke-width="1.0" />
<line x1="649.50" y1="308.40" x2="654.90" y2="308.40" stroke="#666" stroke-width="1.0" />
<line x1="661.30" y1="297.20" x2="661.30" y2="308.40" stroke="#2a2a2a" stroke-width="0.9" />
<line x1="658.60" y1="297.20" x2="664.00" y2="297.20" stroke="#666" stroke-width="1.0" />
<line x1="658.60" y1="308.40" x2="664.00" y2="308.40" stroke="#666" stroke-width="1.0" />
<rect x="432.59" y="337.73" width="4.62" height="3.74" fill="#ff0000" stroke="#200" stroke-width="0.8"/>
<rect x="445.29" y="332.03" width="4.62" height="3.74" fill="#ff0000" stroke="#200" stroke-width="0.8"/>
<rect x="477.89" y="319.53" width="4.62" height="3.74" fill="#ff0000" stroke="#200" stroke-width="0.8"/>
<rect x="577.79" y="316.73" width="4.62" height="3.74" fill="#ff0000" stroke="#200" stroke-width="0.8"/>
<rect x="595.89" y="311.93" width="4.62" height="3.74" fill="#ff0000" stroke="#200" stroke-width="0.8"/>
<rect x="608.49" y="304.03" width="4.62" height="3.74" fill="#ff0000" stroke="#200" stroke-width="0.8"/>
<rect x="621.99" y="307.73" width="4.62" height="3.74" fill="#ff0000" stroke="#200" stroke-width="0.8"/>
<rect x="624.09" y="300.53" width="4.62" height="3.74" fill="#ff0000" stroke="#200" stroke-width="0.8"/>
<rect x="628.39" y="301.53" width="4.62" height="3.74" fill="#ff0000" stroke="#200" stroke-width="0.8"/>
<rect x="649.89" y="300.83" width="4.62" height="3.74" fill="#ff0000" stroke="#200" stroke-width="0.8"/>
<rect x="658.99" y="301.33" width="4.62" height="3.74" fill="#ff0000" stroke="#200" stroke-width="0.8"/>
<ellipse cx="435.20" cy="422.90" rx="2.52" ry="2.23" fill="#0000ff" stroke="#000028" stroke-width="0.8"/>
<ellipse cx="447.50" cy="422.00" rx="2.52" ry="2.23" fill="#0000ff" stroke="#000028" stroke-width="0.8"/>
<ellipse cx="480.10" cy="421.30" rx="2.52" ry="2.23" fill="#0000ff" stroke="#000028" stroke-width="0.8"/>
<ellipse cx="580.10" cy="417.50" rx="2.52" ry="2.23" fill="#0000ff" stroke="#000028" stroke-width="0.8"/>
<ellipse cx="598.20" cy="417.00" rx="2.52" ry="2.23" fill="#0000ff" stroke="#000028" stroke-width="0.8"/>
<ellipse cx="610.80" cy="416.60" rx="2.52" ry="2.23" fill="#0000ff" stroke="#000028" stroke-width="0.8"/>
<ellipse cx="624.00" cy="416.30" rx="2.52" ry="2.23" fill="#0000ff" stroke="#000028" stroke-width="0.8"/>
<ellipse cx="626.20" cy="416.30" rx="2.52" ry="2.23" fill="#0000ff" stroke="#000028" stroke-width="0.8"/>
<ellipse cx="631.00" cy="415.80" rx="2.52" ry="2.23" fill="#0000ff" stroke="#000028" stroke-width="0.8"/>
<ellipse cx="652.00" cy="415.40" rx="2.52" ry="2.23" fill="#0000ff" stroke="#000028" stroke-width="0.8"/>
<ellipse cx="661.30" cy="414.50" rx="2.52" ry="2.23" fill="#0000ff" stroke="#000028" stroke-width="0.8"/>
<line x1="434.90" y1="335.70" x2="661.30" y2="300.60" stroke="#ff0000" stroke-width="1.3" />
<line x1="435.20" y1="422.90" x2="661.30" y2="414.90" stroke="#0000ff" stroke-width="1.4" />
<text transform="translate(416.28,292.25) scale(0.903,1)" font-size="14.39" font-weight="normal" fill="#111">D</text>
<text transform="translate(504.73,499.70) scale(1.000,1)" font-size="14" font-weight="bold" fill="#111">t</text>
<text transform="translate(508.87,494.70) scale(1.000,1)" font-size="13.5" font-weight="bold" fill="#111">0.5</text>
<text transform="translate(527.78,499.70) scale(1.000,1)" font-size="12.5" font-weight="bold" fill="#111">/</text>
<text transform="translate(531.88,499.70) scale(1.000,1)" font-size="14" font-weight="bold" fill="#111">min</text>
<text transform="translate(555.07,494.70) scale(1.000,1)" font-size="13.5" font-weight="bold" fill="#111">0.5</text>
<text transform="translate(17.50,136.47) rotate(-90) scale(1.000,1)" font-size="14" font-weight="bold" fill="#111">q</text>
<text transform="translate(20.60,127.15) rotate(-90) scale(1.000,1)" font-size="12" font-weight="bold" fill="#111">t</text>
<text transform="translate(17.50,122.50) rotate(-90) scale(1.000,1)" font-size="14" font-weight="normal" fill="#111">/</text>
<text transform="translate(17.50,115.62) rotate(-90) scale(1.000,1)" font-size="14" font-weight="bold" fill="#111">m</text>
<text transform="translate(17.50,103.17) rotate(-90) scale(1.000,1)" font-size="14" font-weight="bold" fill="#111">g</text>
<text transform="translate(17.50,90.37) rotate(-90) scale(1.000,1)" font-size="14" font-weight="bold" fill="#111">g</text>
<text transform="translate(12.00,75.04) rotate(-90) scale(1.000,1)" font-size="15" font-weight="bold" fill="#111">1</text>
<line x1="9.10" y1="74.90" x2="9.10" y2="82.50" stroke="#a8a8a8" stroke-width="1.6" />
<text transform="translate(376.20,126.20) rotate(-90) scale(0.920,1)" font-size="14" font-weight="bold" fill="#111">l</text>
<text transform="translate(376.20,122.45) rotate(-90) scale(0.920,1)" font-size="14" font-weight="bold" fill="#111">n</text>
<text transform="translate(376.20,112.94) rotate(-90) scale(0.920,1)" font-size="14" font-weight="bold" fill="#111">(</text>
<text transform="translate(376.20,109.43) rotate(-90) scale(0.920,1)" font-size="14" font-weight="bold" fill="#111">q</text>
<text transform="translate(379.40,101.07) rotate(-90) scale(0.920,1)" font-size="13" font-weight="bold" fill="#111">e</text>
<text transform="translate(376.20,86.53) rotate(-90) scale(0.920,1)" font-size="14" font-weight="bold" fill="#111">q</text>
<text transform="translate(379.20,78.45) rotate(-90) scale(0.920,1)" font-size="13" font-weight="bold" fill="#111">t</text>
<text transform="translate(376.20,73.91) rotate(-90) scale(0.920,1)" font-size="13" font-weight="bold" fill="#111">)</text>
<line x1="372.80" y1="88.30" x2="372.80" y2="94.00" stroke="#a8a8a8" stroke-width="1.6" />
<text transform="translate(28.50,416.77) rotate(-90) scale(1.000,1)" font-size="14" font-weight="bold" fill="#111">t</text>
<text transform="translate(28.50,409.17) rotate(-90) scale(1.000,1)" font-size="14" font-weight="bold" fill="#111">q</text>
<text transform="translate(32.10,400.36) rotate(-90) scale(1.000,1)" font-size="13" font-weight="bold" fill="#111">t</text>
<text transform="translate(23.10,387.79) rotate(-90) scale(0.620,1)" font-size="15" font-weight="bold" fill="#111">1</text>
<text transform="translate(28.50,381.00) rotate(-90) scale(1.000,1)" font-size="14" font-weight="normal" fill="#111">/</text>
<text transform="translate(28.50,372.29) rotate(-90) scale(1.000,1)" font-size="14" font-weight="bold" fill="#111">s</text>
<text transform="translate(28.50,362.22) rotate(-90) scale(1.000,1)" font-size="14" font-weight="bold" fill="#111">m</text>
<text transform="translate(28.50,349.17) rotate(-90) scale(1.000,1)" font-size="14" font-weight="bold" fill="#111">g</text>
<text transform="translate(23.10,332.49) rotate(-90) scale(0.620,1)" font-size="15" font-weight="bold" fill="#111">1</text>
<text transform="translate(28.50,321.37) rotate(-90) scale(1.000,1)" font-size="14" font-weight="bold" fill="#111">g</text>
<line x1="19.30" y1="388.90" x2="19.30" y2="395.60" stroke="#a8a8a8" stroke-width="1.6" />
<line x1="19.60" y1="332.70" x2="19.60" y2="340.70" stroke="#a8a8a8" stroke-width="1.6" />
<text transform="translate(373.10,397.01) rotate(-90) scale(0.930,1)" font-size="13.5" font-weight="bold" fill="#111">q</text>
<text transform="translate(376.20,388.74) rotate(-90) scale(0.930,1)" font-size="12.5" font-weight="bold" fill="#111">t</text>
<text transform="translate(373.10,384.40) rotate(-90) scale(0.930,1)" font-size="13.5" font-weight="normal" fill="#111">/</text>
<text transform="translate(373.10,377.13) rotate(-90) scale(0.930,1)" font-size="13.5" font-weight="bold" fill="#111">m</text>
<text transform="translate(373.10,365.31) rotate(-90) scale(0.930,1)" font-size="13.5" font-weight="bold" fill="#111">g</text>
<text transform="translate(373.10,353.31) rotate(-90) scale(0.930,1)" font-size="13.5" font-weight="bold" fill="#111">g</text>
<text transform="translate(368.60,336.42) rotate(-90) scale(0.930,1)" font-size="14" font-weight="bold" fill="#111">1</text>
<line x1="365.60" y1="338.20" x2="365.60" y2="344.40" stroke="#a8a8a8" stroke-width="1.6" />
</svg>
</body></html>
